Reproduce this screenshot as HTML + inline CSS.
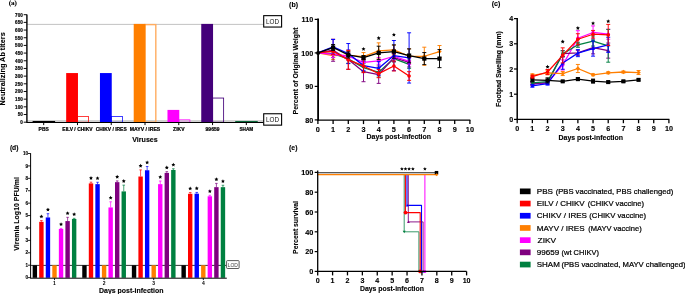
<!DOCTYPE html><html><head><meta charset="utf-8"><style>html,body{margin:0;padding:0;background:#fff}svg{display:block;will-change:transform}</style></head><body><svg width="685" height="294" viewBox="0 0 685 294"><rect width="685" height="294" fill="#fff"/><text x="8.70" y="4.80" font-family="Liberation Serif" font-size="7.1" text-anchor="start" fill="#000" font-weight="bold" stroke="#000" stroke-width="0.12">(a)</text><line x1="26.90" y1="24.40" x2="263.40" y2="24.40" stroke="#b4b4b4" stroke-width="0.8"/><line x1="26.90" y1="120.90" x2="263.40" y2="120.90" stroke="#c4c4c4" stroke-width="1.5"/><rect x="32.60" y="120.97" width="22.50" height="1.23" fill="#000" stroke="none" stroke-width="1"/><rect x="77.59" y="116.43" width="11.00" height="5.77" fill="none" stroke="#ff0000" stroke-width="0.75"/><rect x="66.17" y="73.06" width="11.80" height="49.14" fill="#ff0000" stroke="none" stroke-width="1"/><rect x="111.37" y="116.43" width="11.00" height="5.77" fill="none" stroke="#0000ff" stroke-width="0.75"/><rect x="99.94" y="73.06" width="11.80" height="49.14" fill="#0000ff" stroke="none" stroke-width="1"/><rect x="144.81" y="24.61" width="11.00" height="97.59" fill="none" stroke="#ffac60" stroke-width="1.4"/><rect x="133.71" y="23.91" width="11.80" height="98.29" fill="#ff7f00" stroke="none" stroke-width="1"/><rect x="178.91" y="119.81" width="11.00" height="2.39" fill="none" stroke="#ff00ff" stroke-width="0.75"/><rect x="167.48" y="109.91" width="11.80" height="12.29" fill="#ff00ff" stroke="none" stroke-width="1"/><rect x="212.62" y="98.05" width="11.00" height="24.15" fill="none" stroke="#44007a" stroke-width="0.85"/><rect x="201.25" y="23.91" width="11.80" height="98.29" fill="#44007a" stroke="none" stroke-width="1"/><rect x="235.22" y="120.97" width="22.50" height="1.23" fill="#0a6a3a" stroke="none" stroke-width="1"/><line x1="26.90" y1="14.40" x2="26.90" y2="122.60" stroke="#000" stroke-width="1.4"/><line x1="26.40" y1="122.50" x2="263.40" y2="122.50" stroke="#000" stroke-width="1.15"/><line x1="23.70" y1="122.20" x2="26.90" y2="122.20" stroke="#000" stroke-width="0.95"/><text x="22.70" y="124.00" font-family="Liberation Sans" font-size="5.0" text-anchor="end" fill="#000" font-weight="bold" textLength="2.53" lengthAdjust="spacingAndGlyphs" stroke="#000" stroke-width="0.18">0</text><line x1="23.70" y1="114.52" x2="26.90" y2="114.52" stroke="#000" stroke-width="0.95"/><text x="22.70" y="116.32" font-family="Liberation Sans" font-size="5.0" text-anchor="end" fill="#000" font-weight="bold" textLength="5.06" lengthAdjust="spacingAndGlyphs" stroke="#000" stroke-width="0.18">50</text><line x1="23.70" y1="106.84" x2="26.90" y2="106.84" stroke="#000" stroke-width="0.95"/><text x="22.70" y="108.64" font-family="Liberation Sans" font-size="5.0" text-anchor="end" fill="#000" font-weight="bold" textLength="7.59" lengthAdjust="spacingAndGlyphs" stroke="#000" stroke-width="0.18">100</text><line x1="23.70" y1="99.16" x2="26.90" y2="99.16" stroke="#000" stroke-width="0.95"/><text x="22.70" y="100.96" font-family="Liberation Sans" font-size="5.0" text-anchor="end" fill="#000" font-weight="bold" textLength="7.59" lengthAdjust="spacingAndGlyphs" stroke="#000" stroke-width="0.18">150</text><line x1="23.70" y1="91.49" x2="26.90" y2="91.49" stroke="#000" stroke-width="0.95"/><text x="22.70" y="93.29" font-family="Liberation Sans" font-size="5.0" text-anchor="end" fill="#000" font-weight="bold" textLength="7.59" lengthAdjust="spacingAndGlyphs" stroke="#000" stroke-width="0.18">200</text><line x1="23.70" y1="83.81" x2="26.90" y2="83.81" stroke="#000" stroke-width="0.95"/><text x="22.70" y="85.61" font-family="Liberation Sans" font-size="5.0" text-anchor="end" fill="#000" font-weight="bold" textLength="7.59" lengthAdjust="spacingAndGlyphs" stroke="#000" stroke-width="0.18">250</text><line x1="23.70" y1="76.13" x2="26.90" y2="76.13" stroke="#000" stroke-width="0.95"/><text x="22.70" y="77.93" font-family="Liberation Sans" font-size="5.0" text-anchor="end" fill="#000" font-weight="bold" textLength="7.59" lengthAdjust="spacingAndGlyphs" stroke="#000" stroke-width="0.18">300</text><line x1="23.70" y1="68.45" x2="26.90" y2="68.45" stroke="#000" stroke-width="0.95"/><text x="22.70" y="70.25" font-family="Liberation Sans" font-size="5.0" text-anchor="end" fill="#000" font-weight="bold" textLength="7.59" lengthAdjust="spacingAndGlyphs" stroke="#000" stroke-width="0.18">350</text><line x1="23.70" y1="60.77" x2="26.90" y2="60.77" stroke="#000" stroke-width="0.95"/><text x="22.70" y="62.57" font-family="Liberation Sans" font-size="5.0" text-anchor="end" fill="#000" font-weight="bold" textLength="7.59" lengthAdjust="spacingAndGlyphs" stroke="#000" stroke-width="0.18">400</text><line x1="23.70" y1="53.09" x2="26.90" y2="53.09" stroke="#000" stroke-width="0.95"/><text x="22.70" y="54.89" font-family="Liberation Sans" font-size="5.0" text-anchor="end" fill="#000" font-weight="bold" textLength="7.59" lengthAdjust="spacingAndGlyphs" stroke="#000" stroke-width="0.18">450</text><line x1="23.70" y1="45.41" x2="26.90" y2="45.41" stroke="#000" stroke-width="0.95"/><text x="22.70" y="47.21" font-family="Liberation Sans" font-size="5.0" text-anchor="end" fill="#000" font-weight="bold" textLength="7.59" lengthAdjust="spacingAndGlyphs" stroke="#000" stroke-width="0.18">500</text><line x1="23.70" y1="37.74" x2="26.90" y2="37.74" stroke="#000" stroke-width="0.95"/><text x="22.70" y="39.54" font-family="Liberation Sans" font-size="5.0" text-anchor="end" fill="#000" font-weight="bold" textLength="7.59" lengthAdjust="spacingAndGlyphs" stroke="#000" stroke-width="0.18">550</text><line x1="23.70" y1="30.06" x2="26.90" y2="30.06" stroke="#000" stroke-width="0.95"/><text x="22.70" y="31.86" font-family="Liberation Sans" font-size="5.0" text-anchor="end" fill="#000" font-weight="bold" textLength="7.59" lengthAdjust="spacingAndGlyphs" stroke="#000" stroke-width="0.18">600</text><line x1="23.70" y1="22.38" x2="26.90" y2="22.38" stroke="#000" stroke-width="0.95"/><text x="22.70" y="24.18" font-family="Liberation Sans" font-size="5.0" text-anchor="end" fill="#000" font-weight="bold" textLength="7.59" lengthAdjust="spacingAndGlyphs" stroke="#000" stroke-width="0.18">650</text><line x1="23.70" y1="14.70" x2="26.90" y2="14.70" stroke="#000" stroke-width="0.95"/><text x="22.70" y="16.50" font-family="Liberation Sans" font-size="5.0" text-anchor="end" fill="#000" font-weight="bold" textLength="7.59" lengthAdjust="spacingAndGlyphs" stroke="#000" stroke-width="0.18">700</text><line x1="43.70" y1="122.50" x2="43.70" y2="125.10" stroke="#000" stroke-width="1.0"/><text x="43.70" y="130.50" font-family="Liberation Sans" font-size="4.8" text-anchor="middle" fill="#000" font-weight="bold" textLength="10.2" lengthAdjust="spacingAndGlyphs" stroke="#000" stroke-width="0.2">PBS</text><line x1="77.47" y1="122.50" x2="77.47" y2="125.10" stroke="#000" stroke-width="1.0"/><text x="77.47" y="130.50" font-family="Liberation Sans" font-size="4.8" text-anchor="middle" fill="#000" font-weight="bold" textLength="30.3" lengthAdjust="spacingAndGlyphs" stroke="#000" stroke-width="0.2">EILV / CHIKV</text><line x1="111.24" y1="122.50" x2="111.24" y2="125.10" stroke="#000" stroke-width="1.0"/><text x="111.24" y="130.50" font-family="Liberation Sans" font-size="4.8" text-anchor="middle" fill="#000" font-weight="bold" textLength="30.9" lengthAdjust="spacingAndGlyphs" stroke="#000" stroke-width="0.2">CHIKV / IRES</text><line x1="145.01" y1="122.50" x2="145.01" y2="125.10" stroke="#000" stroke-width="1.0"/><text x="145.01" y="130.50" font-family="Liberation Sans" font-size="4.8" text-anchor="middle" fill="#000" font-weight="bold" textLength="30.5" lengthAdjust="spacingAndGlyphs" stroke="#000" stroke-width="0.2">MAYV / IRES</text><line x1="178.78" y1="122.50" x2="178.78" y2="125.10" stroke="#000" stroke-width="1.0"/><text x="178.78" y="130.50" font-family="Liberation Sans" font-size="4.8" text-anchor="middle" fill="#000" font-weight="bold" textLength="11.4" lengthAdjust="spacingAndGlyphs" stroke="#000" stroke-width="0.2">ZIKV</text><line x1="212.55" y1="122.50" x2="212.55" y2="125.10" stroke="#000" stroke-width="1.0"/><text x="212.55" y="130.50" font-family="Liberation Sans" font-size="4.8" text-anchor="middle" fill="#000" font-weight="bold" textLength="13.9" lengthAdjust="spacingAndGlyphs" stroke="#000" stroke-width="0.2">99659</text><line x1="246.32" y1="122.50" x2="246.32" y2="125.10" stroke="#000" stroke-width="1.0"/><text x="246.32" y="130.50" font-family="Liberation Sans" font-size="4.8" text-anchor="middle" fill="#000" font-weight="bold" textLength="13.8" lengthAdjust="spacingAndGlyphs" stroke="#000" stroke-width="0.2">SHAM</text><text x="145.00" y="142.20" font-family="Liberation Sans" font-size="7.7" text-anchor="middle" fill="#000" font-weight="bold" stroke="#000" stroke-width="0.12" textLength="25.6" lengthAdjust="spacingAndGlyphs">Viruses</text><text x="5.40" y="68.85" font-family="Liberation Sans" font-size="7.3" text-anchor="middle" fill="#000" font-weight="bold" stroke="#000" stroke-width="0.12" transform="rotate(-90 5.40 68.85)">Neutralizing Ab titers</text><rect x="263.70" y="15.65" width="17.90" height="11.40" fill="#fff" stroke="#000" stroke-width="1.1"/><text x="272.60" y="24.25" font-family="Liberation Sans" font-size="7.4" text-anchor="middle" fill="#111" textLength="13.0" lengthAdjust="spacingAndGlyphs">LOD</text><rect x="263.70" y="113.75" width="17.90" height="11.40" fill="#fff" stroke="#000" stroke-width="1.1"/><text x="272.60" y="122.35" font-family="Liberation Sans" font-size="7.4" text-anchor="middle" fill="#111" textLength="13.0" lengthAdjust="spacingAndGlyphs">LOD</text><text x="289.10" y="7.30" font-family="Liberation Sans" font-size="7" text-anchor="start" fill="#000" font-weight="bold" stroke="#000" stroke-width="0.12">(b)</text><text x="297.60" y="70.90" font-family="Liberation Sans" font-size="6.95" text-anchor="middle" fill="#000" font-weight="bold" stroke="#000" stroke-width="0.12" transform="rotate(-90 297.60 70.90)">Percent of Original Weight</text><line x1="333.10" y1="59.60" x2="333.10" y2="51.56" stroke="#ff7f00" stroke-width="0.95"/><line x1="331.10" y1="59.60" x2="335.10" y2="59.60" stroke="#ff7f00" stroke-width="0.95"/><line x1="331.10" y1="51.56" x2="335.10" y2="51.56" stroke="#ff7f00" stroke-width="0.95"/><line x1="348.30" y1="59.27" x2="348.30" y2="51.23" stroke="#ff7f00" stroke-width="0.95"/><line x1="346.30" y1="59.27" x2="350.30" y2="59.27" stroke="#ff7f00" stroke-width="0.95"/><line x1="346.30" y1="51.23" x2="350.30" y2="51.23" stroke="#ff7f00" stroke-width="0.95"/><line x1="363.50" y1="60.60" x2="363.50" y2="52.56" stroke="#ff7f00" stroke-width="0.95"/><line x1="361.50" y1="60.60" x2="365.50" y2="60.60" stroke="#ff7f00" stroke-width="0.95"/><line x1="361.50" y1="52.56" x2="365.50" y2="52.56" stroke="#ff7f00" stroke-width="0.95"/><line x1="378.70" y1="58.93" x2="378.70" y2="42.85" stroke="#ff7f00" stroke-width="0.95"/><line x1="376.70" y1="58.93" x2="380.70" y2="58.93" stroke="#ff7f00" stroke-width="0.95"/><line x1="376.70" y1="42.85" x2="380.70" y2="42.85" stroke="#ff7f00" stroke-width="0.95"/><line x1="393.90" y1="54.57" x2="393.90" y2="45.19" stroke="#ff7f00" stroke-width="0.95"/><line x1="391.90" y1="54.57" x2="395.90" y2="54.57" stroke="#ff7f00" stroke-width="0.95"/><line x1="391.90" y1="45.19" x2="395.90" y2="45.19" stroke="#ff7f00" stroke-width="0.95"/><line x1="409.10" y1="63.62" x2="409.10" y2="48.88" stroke="#ff7f00" stroke-width="0.95"/><line x1="407.10" y1="63.62" x2="411.10" y2="63.62" stroke="#ff7f00" stroke-width="0.95"/><line x1="407.10" y1="48.88" x2="411.10" y2="48.88" stroke="#ff7f00" stroke-width="0.95"/><line x1="424.30" y1="65.30" x2="424.30" y2="47.20" stroke="#ff7f00" stroke-width="0.95"/><line x1="422.30" y1="65.30" x2="426.30" y2="65.30" stroke="#ff7f00" stroke-width="0.95"/><line x1="422.30" y1="47.20" x2="426.30" y2="47.20" stroke="#ff7f00" stroke-width="0.95"/><line x1="439.50" y1="57.59" x2="439.50" y2="45.53" stroke="#ff7f00" stroke-width="0.95"/><line x1="437.50" y1="57.59" x2="441.50" y2="57.59" stroke="#ff7f00" stroke-width="0.95"/><line x1="437.50" y1="45.53" x2="441.50" y2="45.53" stroke="#ff7f00" stroke-width="0.95"/><polyline points="317.90,52.90 333.10,55.58 348.30,55.25 363.50,56.58 378.70,50.89 393.90,49.88 409.10,56.25 424.30,56.25 439.50,51.56" fill="none" stroke="#ff7f00" stroke-width="1.25" stroke-linejoin="round"/><polygon points="333.10,53.42 335.26,55.58 333.10,57.74 330.94,55.58" fill="#ff7f00"/><polygon points="348.30,53.09 350.46,55.25 348.30,57.41 346.14,55.25" fill="#ff7f00"/><polygon points="363.50,54.42 365.66,56.58 363.50,58.74 361.34,56.58" fill="#ff7f00"/><polygon points="378.70,48.73 380.86,50.89 378.70,53.05 376.54,50.89" fill="#ff7f00"/><polygon points="393.90,47.72 396.06,49.88 393.90,52.04 391.74,49.88" fill="#ff7f00"/><polygon points="409.10,54.09 411.26,56.25 409.10,58.41 406.94,56.25" fill="#ff7f00"/><polygon points="424.30,54.09 426.46,56.25 424.30,58.41 422.14,56.25" fill="#ff7f00"/><polygon points="439.50,49.40 441.66,51.56 439.50,53.72 437.34,51.56" fill="#ff7f00"/><line x1="333.10" y1="57.59" x2="333.10" y2="49.55" stroke="#008040" stroke-width="0.95"/><line x1="331.10" y1="57.59" x2="335.10" y2="57.59" stroke="#008040" stroke-width="0.95"/><line x1="331.10" y1="49.55" x2="335.10" y2="49.55" stroke="#008040" stroke-width="0.95"/><line x1="348.30" y1="63.28" x2="348.30" y2="54.57" stroke="#008040" stroke-width="0.95"/><line x1="346.30" y1="63.28" x2="350.30" y2="63.28" stroke="#008040" stroke-width="0.95"/><line x1="346.30" y1="54.57" x2="350.30" y2="54.57" stroke="#008040" stroke-width="0.95"/><line x1="363.50" y1="71.66" x2="363.50" y2="63.62" stroke="#008040" stroke-width="0.95"/><line x1="361.50" y1="71.66" x2="365.50" y2="71.66" stroke="#008040" stroke-width="0.95"/><line x1="361.50" y1="63.62" x2="365.50" y2="63.62" stroke="#008040" stroke-width="0.95"/><line x1="378.70" y1="77.02" x2="378.70" y2="67.64" stroke="#008040" stroke-width="0.95"/><line x1="376.70" y1="77.02" x2="380.70" y2="77.02" stroke="#008040" stroke-width="0.95"/><line x1="376.70" y1="67.64" x2="380.70" y2="67.64" stroke="#008040" stroke-width="0.95"/><line x1="393.90" y1="61.95" x2="393.90" y2="55.25" stroke="#008040" stroke-width="0.95"/><line x1="391.90" y1="61.95" x2="395.90" y2="61.95" stroke="#008040" stroke-width="0.95"/><line x1="391.90" y1="55.25" x2="395.90" y2="55.25" stroke="#008040" stroke-width="0.95"/><line x1="409.10" y1="68.31" x2="409.10" y2="60.27" stroke="#008040" stroke-width="0.95"/><line x1="407.10" y1="68.31" x2="411.10" y2="68.31" stroke="#008040" stroke-width="0.95"/><line x1="407.10" y1="60.27" x2="411.10" y2="60.27" stroke="#008040" stroke-width="0.95"/><polyline points="317.90,52.90 333.10,53.57 348.30,58.93 363.50,67.64 378.70,72.33 393.90,58.60 409.10,64.29" fill="none" stroke="#008040" stroke-width="1.3" stroke-linejoin="round"/><polygon points="333.10,55.55 335.08,52.13 331.12,52.13" fill="#008040"/><polygon points="348.30,60.91 350.28,57.49 346.32,57.49" fill="#008040"/><polygon points="363.50,69.62 365.48,66.20 361.52,66.20" fill="#008040"/><polygon points="378.70,74.31 380.68,70.89 376.72,70.89" fill="#008040"/><polygon points="393.90,60.58 395.88,57.16 391.92,57.16" fill="#008040"/><polygon points="409.10,66.27 411.08,62.85 407.12,62.85" fill="#008040"/><line x1="333.10" y1="61.27" x2="333.10" y2="39.17" stroke="#7f007f" stroke-width="0.95"/><line x1="331.10" y1="61.27" x2="335.10" y2="61.27" stroke="#7f007f" stroke-width="0.95"/><line x1="331.10" y1="39.17" x2="335.10" y2="39.17" stroke="#7f007f" stroke-width="0.95"/><line x1="348.30" y1="69.32" x2="348.30" y2="49.88" stroke="#7f007f" stroke-width="0.95"/><line x1="346.30" y1="69.32" x2="350.30" y2="69.32" stroke="#7f007f" stroke-width="0.95"/><line x1="346.30" y1="49.88" x2="350.30" y2="49.88" stroke="#7f007f" stroke-width="0.95"/><line x1="363.50" y1="81.71" x2="363.50" y2="61.61" stroke="#7f007f" stroke-width="0.95"/><line x1="361.50" y1="81.71" x2="365.50" y2="81.71" stroke="#7f007f" stroke-width="0.95"/><line x1="361.50" y1="61.61" x2="365.50" y2="61.61" stroke="#7f007f" stroke-width="0.95"/><line x1="378.70" y1="83.38" x2="378.70" y2="65.97" stroke="#7f007f" stroke-width="0.95"/><line x1="376.70" y1="83.38" x2="380.70" y2="83.38" stroke="#7f007f" stroke-width="0.95"/><line x1="376.70" y1="65.97" x2="380.70" y2="65.97" stroke="#7f007f" stroke-width="0.95"/><line x1="393.90" y1="61.61" x2="393.90" y2="53.57" stroke="#7f007f" stroke-width="0.95"/><line x1="391.90" y1="61.61" x2="395.90" y2="61.61" stroke="#7f007f" stroke-width="0.95"/><line x1="391.90" y1="53.57" x2="395.90" y2="53.57" stroke="#7f007f" stroke-width="0.95"/><line x1="409.10" y1="66.97" x2="409.10" y2="57.59" stroke="#7f007f" stroke-width="0.95"/><line x1="407.10" y1="66.97" x2="411.10" y2="66.97" stroke="#7f007f" stroke-width="0.95"/><line x1="407.10" y1="57.59" x2="411.10" y2="57.59" stroke="#7f007f" stroke-width="0.95"/><polyline points="317.90,52.90 333.10,50.22 348.30,59.60 363.50,71.66 378.70,74.67 393.90,57.59 409.10,62.28" fill="none" stroke="#7f007f" stroke-width="1.3" stroke-linejoin="round"/><polygon points="333.10,48.24 335.08,51.66 331.12,51.66" fill="#7f007f"/><polygon points="348.30,57.62 350.28,61.04 346.32,61.04" fill="#7f007f"/><polygon points="363.50,69.68 365.48,73.10 361.52,73.10" fill="#7f007f"/><polygon points="378.70,72.69 380.68,76.11 376.72,76.11" fill="#7f007f"/><polygon points="393.90,55.61 395.88,59.03 391.92,59.03" fill="#7f007f"/><polygon points="409.10,60.30 411.08,63.72 407.12,63.72" fill="#7f007f"/><line x1="333.10" y1="57.59" x2="333.10" y2="50.89" stroke="#ff00ff" stroke-width="0.95"/><line x1="331.10" y1="57.59" x2="335.10" y2="57.59" stroke="#ff00ff" stroke-width="0.95"/><line x1="331.10" y1="50.89" x2="335.10" y2="50.89" stroke="#ff00ff" stroke-width="0.95"/><line x1="348.30" y1="59.60" x2="348.30" y2="52.90" stroke="#ff00ff" stroke-width="0.95"/><line x1="346.30" y1="59.60" x2="350.30" y2="59.60" stroke="#ff00ff" stroke-width="0.95"/><line x1="346.30" y1="52.90" x2="350.30" y2="52.90" stroke="#ff00ff" stroke-width="0.95"/><line x1="363.50" y1="65.63" x2="363.50" y2="58.93" stroke="#ff00ff" stroke-width="0.95"/><line x1="361.50" y1="65.63" x2="365.50" y2="65.63" stroke="#ff00ff" stroke-width="0.95"/><line x1="361.50" y1="58.93" x2="365.50" y2="58.93" stroke="#ff00ff" stroke-width="0.95"/><line x1="378.70" y1="64.29" x2="378.70" y2="57.59" stroke="#ff00ff" stroke-width="0.95"/><line x1="376.70" y1="64.29" x2="380.70" y2="64.29" stroke="#ff00ff" stroke-width="0.95"/><line x1="376.70" y1="57.59" x2="380.70" y2="57.59" stroke="#ff00ff" stroke-width="0.95"/><line x1="393.90" y1="59.27" x2="393.90" y2="53.23" stroke="#ff00ff" stroke-width="0.95"/><line x1="391.90" y1="59.27" x2="395.90" y2="59.27" stroke="#ff00ff" stroke-width="0.95"/><line x1="391.90" y1="53.23" x2="395.90" y2="53.23" stroke="#ff00ff" stroke-width="0.95"/><line x1="409.10" y1="64.62" x2="409.10" y2="57.92" stroke="#ff00ff" stroke-width="0.95"/><line x1="407.10" y1="64.62" x2="411.10" y2="64.62" stroke="#ff00ff" stroke-width="0.95"/><line x1="407.10" y1="57.92" x2="411.10" y2="57.92" stroke="#ff00ff" stroke-width="0.95"/><polyline points="317.90,52.90 333.10,54.24 348.30,56.25 363.50,62.28 378.70,60.94 393.90,56.25 409.10,61.27" fill="none" stroke="#ff00ff" stroke-width="1.3" stroke-linejoin="round"/><circle cx="333.10" cy="54.24" r="1.80" fill="#ff00ff"/><circle cx="348.30" cy="56.25" r="1.80" fill="#ff00ff"/><circle cx="363.50" cy="62.28" r="1.80" fill="#ff00ff"/><circle cx="378.70" cy="60.94" r="1.80" fill="#ff00ff"/><circle cx="393.90" cy="56.25" r="1.80" fill="#ff00ff"/><circle cx="409.10" cy="61.27" r="1.80" fill="#ff00ff"/><line x1="333.10" y1="54.24" x2="333.10" y2="39.50" stroke="#0000ff" stroke-width="0.95"/><line x1="331.10" y1="54.24" x2="335.10" y2="54.24" stroke="#0000ff" stroke-width="0.95"/><line x1="331.10" y1="39.50" x2="335.10" y2="39.50" stroke="#0000ff" stroke-width="0.95"/><line x1="348.30" y1="63.62" x2="348.30" y2="43.52" stroke="#0000ff" stroke-width="0.95"/><line x1="346.30" y1="63.62" x2="350.30" y2="63.62" stroke="#0000ff" stroke-width="0.95"/><line x1="346.30" y1="43.52" x2="350.30" y2="43.52" stroke="#0000ff" stroke-width="0.95"/><line x1="363.50" y1="70.32" x2="363.50" y2="60.94" stroke="#0000ff" stroke-width="0.95"/><line x1="361.50" y1="70.32" x2="365.50" y2="70.32" stroke="#0000ff" stroke-width="0.95"/><line x1="361.50" y1="60.94" x2="365.50" y2="60.94" stroke="#0000ff" stroke-width="0.95"/><line x1="378.70" y1="75.01" x2="378.70" y2="61.61" stroke="#0000ff" stroke-width="0.95"/><line x1="376.70" y1="75.01" x2="380.70" y2="75.01" stroke="#0000ff" stroke-width="0.95"/><line x1="376.70" y1="61.61" x2="380.70" y2="61.61" stroke="#0000ff" stroke-width="0.95"/><line x1="393.90" y1="70.65" x2="393.90" y2="40.50" stroke="#0000ff" stroke-width="0.95"/><line x1="391.90" y1="70.65" x2="395.90" y2="70.65" stroke="#0000ff" stroke-width="0.95"/><line x1="391.90" y1="40.50" x2="395.90" y2="40.50" stroke="#0000ff" stroke-width="0.95"/><line x1="409.10" y1="83.05" x2="409.10" y2="32.80" stroke="#0000ff" stroke-width="0.95"/><line x1="407.10" y1="83.05" x2="411.10" y2="83.05" stroke="#0000ff" stroke-width="0.95"/><line x1="407.10" y1="32.80" x2="411.10" y2="32.80" stroke="#0000ff" stroke-width="0.95"/><polyline points="317.90,52.90 333.10,46.87 348.30,53.57 363.50,65.63 378.70,68.31 393.90,55.58 409.10,57.92" fill="none" stroke="#0000ff" stroke-width="1.3" stroke-linejoin="round"/><polygon points="333.10,44.89 335.08,48.31 331.12,48.31" fill="#0000ff"/><polygon points="348.30,51.59 350.28,55.01 346.32,55.01" fill="#0000ff"/><polygon points="363.50,63.65 365.48,67.07 361.52,67.07" fill="#0000ff"/><polygon points="378.70,66.33 380.68,69.75 376.72,69.75" fill="#0000ff"/><polygon points="393.90,53.60 395.88,57.02 391.92,57.02" fill="#0000ff"/><polygon points="409.10,55.95 411.08,59.36 407.12,59.36" fill="#0000ff"/><line x1="333.10" y1="54.57" x2="333.10" y2="47.88" stroke="#ff0000" stroke-width="0.95"/><line x1="331.10" y1="54.57" x2="335.10" y2="54.57" stroke="#ff0000" stroke-width="0.95"/><line x1="331.10" y1="47.88" x2="335.10" y2="47.88" stroke="#ff0000" stroke-width="0.95"/><line x1="348.30" y1="69.31" x2="348.30" y2="50.55" stroke="#ff0000" stroke-width="0.95"/><line x1="346.30" y1="69.31" x2="350.30" y2="69.31" stroke="#ff0000" stroke-width="0.95"/><line x1="346.30" y1="50.55" x2="350.30" y2="50.55" stroke="#ff0000" stroke-width="0.95"/><line x1="363.50" y1="72.67" x2="363.50" y2="59.27" stroke="#ff0000" stroke-width="0.95"/><line x1="361.50" y1="72.67" x2="365.50" y2="72.67" stroke="#ff0000" stroke-width="0.95"/><line x1="361.50" y1="59.27" x2="365.50" y2="59.27" stroke="#ff0000" stroke-width="0.95"/><line x1="378.70" y1="77.69" x2="378.70" y2="69.65" stroke="#ff0000" stroke-width="0.95"/><line x1="376.70" y1="77.69" x2="380.70" y2="77.69" stroke="#ff0000" stroke-width="0.95"/><line x1="376.70" y1="69.65" x2="380.70" y2="69.65" stroke="#ff0000" stroke-width="0.95"/><line x1="393.90" y1="70.99" x2="393.90" y2="60.94" stroke="#ff0000" stroke-width="0.95"/><line x1="391.90" y1="70.99" x2="395.90" y2="70.99" stroke="#ff0000" stroke-width="0.95"/><line x1="391.90" y1="60.94" x2="395.90" y2="60.94" stroke="#ff0000" stroke-width="0.95"/><line x1="409.10" y1="80.37" x2="409.10" y2="71.66" stroke="#ff0000" stroke-width="0.95"/><line x1="407.10" y1="80.37" x2="411.10" y2="80.37" stroke="#ff0000" stroke-width="0.95"/><line x1="407.10" y1="71.66" x2="411.10" y2="71.66" stroke="#ff0000" stroke-width="0.95"/><polyline points="317.90,52.90 333.10,51.23 348.30,59.93 363.50,65.97 378.70,73.67 393.90,65.97 409.10,76.02" fill="none" stroke="#ff0000" stroke-width="1.3" stroke-linejoin="round"/><circle cx="333.10" cy="51.23" r="1.80" fill="#ff0000"/><circle cx="348.30" cy="59.93" r="1.80" fill="#ff0000"/><circle cx="363.50" cy="65.97" r="1.80" fill="#ff0000"/><circle cx="378.70" cy="73.67" r="1.80" fill="#ff0000"/><circle cx="393.90" cy="65.97" r="1.80" fill="#ff0000"/><circle cx="409.10" cy="76.02" r="1.80" fill="#ff0000"/><line x1="333.10" y1="50.56" x2="333.10" y2="44.52" stroke="#000" stroke-width="0.95"/><line x1="331.10" y1="50.56" x2="335.10" y2="50.56" stroke="#000" stroke-width="0.95"/><line x1="331.10" y1="44.52" x2="335.10" y2="44.52" stroke="#000" stroke-width="0.95"/><line x1="348.30" y1="57.92" x2="348.30" y2="51.89" stroke="#000" stroke-width="0.95"/><line x1="346.30" y1="57.92" x2="350.30" y2="57.92" stroke="#000" stroke-width="0.95"/><line x1="346.30" y1="51.89" x2="350.30" y2="51.89" stroke="#000" stroke-width="0.95"/><line x1="363.50" y1="59.60" x2="363.50" y2="55.58" stroke="#000" stroke-width="0.95"/><line x1="361.50" y1="59.60" x2="365.50" y2="59.60" stroke="#000" stroke-width="0.95"/><line x1="361.50" y1="55.58" x2="365.50" y2="55.58" stroke="#000" stroke-width="0.95"/><line x1="378.70" y1="59.60" x2="378.70" y2="46.20" stroke="#000" stroke-width="0.95"/><line x1="376.70" y1="59.60" x2="380.70" y2="59.60" stroke="#000" stroke-width="0.95"/><line x1="376.70" y1="46.20" x2="380.70" y2="46.20" stroke="#000" stroke-width="0.95"/><line x1="393.90" y1="58.26" x2="393.90" y2="44.86" stroke="#000" stroke-width="0.95"/><line x1="391.90" y1="58.26" x2="395.90" y2="58.26" stroke="#000" stroke-width="0.95"/><line x1="391.90" y1="44.86" x2="395.90" y2="44.86" stroke="#000" stroke-width="0.95"/><line x1="409.10" y1="62.28" x2="409.10" y2="48.88" stroke="#000" stroke-width="0.95"/><line x1="407.10" y1="62.28" x2="411.10" y2="62.28" stroke="#000" stroke-width="0.95"/><line x1="407.10" y1="48.88" x2="411.10" y2="48.88" stroke="#000" stroke-width="0.95"/><line x1="424.30" y1="64.62" x2="424.30" y2="52.57" stroke="#000" stroke-width="0.95"/><line x1="422.30" y1="64.62" x2="426.30" y2="64.62" stroke="#000" stroke-width="0.95"/><line x1="422.30" y1="52.57" x2="426.30" y2="52.57" stroke="#000" stroke-width="0.95"/><line x1="439.50" y1="67.64" x2="439.50" y2="49.55" stroke="#000" stroke-width="0.95"/><line x1="437.50" y1="67.64" x2="441.50" y2="67.64" stroke="#000" stroke-width="0.95"/><line x1="437.50" y1="49.55" x2="441.50" y2="49.55" stroke="#000" stroke-width="0.95"/><polyline points="317.90,52.90 333.10,47.54 348.30,54.91 363.50,57.59 378.70,52.90 393.90,51.56 409.10,55.58 424.30,58.60 439.50,58.60" fill="none" stroke="#000" stroke-width="1.3" stroke-linejoin="round"/><rect x="331.00" y="45.44" width="4.20" height="4.20" fill="#000" stroke="none" stroke-width="1"/><rect x="346.20" y="52.81" width="4.20" height="4.20" fill="#000" stroke="none" stroke-width="1"/><rect x="361.40" y="55.49" width="4.20" height="4.20" fill="#000" stroke="none" stroke-width="1"/><rect x="376.60" y="50.80" width="4.20" height="4.20" fill="#000" stroke="none" stroke-width="1"/><rect x="391.80" y="49.46" width="4.20" height="4.20" fill="#000" stroke="none" stroke-width="1"/><rect x="407.00" y="53.48" width="4.20" height="4.20" fill="#000" stroke="none" stroke-width="1"/><rect x="422.20" y="56.50" width="4.20" height="4.20" fill="#000" stroke="none" stroke-width="1"/><rect x="437.40" y="56.50" width="4.20" height="4.20" fill="#000" stroke="none" stroke-width="1"/><polygon points="363.50,46.90 364.12,48.15 365.50,48.35 364.50,49.32 364.73,50.70 363.50,50.05 362.27,50.70 362.50,49.32 361.50,48.35 362.88,48.15" fill="#000"/><polygon points="378.70,36.10 379.32,37.35 380.70,37.55 379.70,38.52 379.93,39.90 378.70,39.25 377.47,39.90 377.70,38.52 376.70,37.55 378.08,37.35" fill="#000"/><polygon points="393.90,32.70 394.52,33.95 395.90,34.15 394.90,35.12 395.13,36.50 393.90,35.85 392.67,36.50 392.90,35.12 391.90,34.15 393.28,33.95" fill="#000"/><line x1="318.10" y1="18.60" x2="318.10" y2="120.60" stroke="#000" stroke-width="1.8"/><line x1="317.30" y1="120.10" x2="470.30" y2="120.10" stroke="#000" stroke-width="1.3"/><line x1="314.70" y1="119.90" x2="317.90" y2="119.90" stroke="#000" stroke-width="1.2"/><text x="313.20" y="122.50" font-family="Liberation Sans" font-size="7.2" text-anchor="end" fill="#000" font-weight="bold" stroke="#000" stroke-width="0.12">80</text><line x1="314.70" y1="86.40" x2="317.90" y2="86.40" stroke="#000" stroke-width="1.2"/><text x="313.20" y="89.00" font-family="Liberation Sans" font-size="7.2" text-anchor="end" fill="#000" font-weight="bold" stroke="#000" stroke-width="0.12">90</text><line x1="314.70" y1="52.90" x2="317.90" y2="52.90" stroke="#000" stroke-width="1.2"/><text x="313.20" y="55.50" font-family="Liberation Sans" font-size="7.2" text-anchor="end" fill="#000" font-weight="bold" stroke="#000" stroke-width="0.12">100</text><line x1="314.70" y1="19.40" x2="317.90" y2="19.40" stroke="#000" stroke-width="1.2"/><text x="313.20" y="22.00" font-family="Liberation Sans" font-size="7.2" text-anchor="end" fill="#000" font-weight="bold" stroke="#000" stroke-width="0.12">110</text><line x1="317.90" y1="120.10" x2="317.90" y2="124.10" stroke="#000" stroke-width="1.3"/><text x="317.90" y="131.50" font-family="Liberation Sans" font-size="7.3" text-anchor="middle" fill="#000" font-weight="bold" stroke="#000" stroke-width="0.12">0</text><line x1="333.10" y1="120.10" x2="333.10" y2="124.10" stroke="#000" stroke-width="1.3"/><text x="333.10" y="131.50" font-family="Liberation Sans" font-size="7.3" text-anchor="middle" fill="#000" font-weight="bold" stroke="#000" stroke-width="0.12">1</text><line x1="348.30" y1="120.10" x2="348.30" y2="124.10" stroke="#000" stroke-width="1.3"/><text x="348.30" y="131.50" font-family="Liberation Sans" font-size="7.3" text-anchor="middle" fill="#000" font-weight="bold" stroke="#000" stroke-width="0.12">2</text><line x1="363.50" y1="120.10" x2="363.50" y2="124.10" stroke="#000" stroke-width="1.3"/><text x="363.50" y="131.50" font-family="Liberation Sans" font-size="7.3" text-anchor="middle" fill="#000" font-weight="bold" stroke="#000" stroke-width="0.12">3</text><line x1="378.70" y1="120.10" x2="378.70" y2="124.10" stroke="#000" stroke-width="1.3"/><text x="378.70" y="131.50" font-family="Liberation Sans" font-size="7.3" text-anchor="middle" fill="#000" font-weight="bold" stroke="#000" stroke-width="0.12">4</text><line x1="393.90" y1="120.10" x2="393.90" y2="124.10" stroke="#000" stroke-width="1.3"/><text x="393.90" y="131.50" font-family="Liberation Sans" font-size="7.3" text-anchor="middle" fill="#000" font-weight="bold" stroke="#000" stroke-width="0.12">5</text><line x1="409.10" y1="120.10" x2="409.10" y2="124.10" stroke="#000" stroke-width="1.3"/><text x="409.10" y="131.50" font-family="Liberation Sans" font-size="7.3" text-anchor="middle" fill="#000" font-weight="bold" stroke="#000" stroke-width="0.12">6</text><line x1="424.30" y1="120.10" x2="424.30" y2="124.10" stroke="#000" stroke-width="1.3"/><text x="424.30" y="131.50" font-family="Liberation Sans" font-size="7.3" text-anchor="middle" fill="#000" font-weight="bold" stroke="#000" stroke-width="0.12">7</text><line x1="439.50" y1="120.10" x2="439.50" y2="124.10" stroke="#000" stroke-width="1.3"/><text x="439.50" y="131.50" font-family="Liberation Sans" font-size="7.3" text-anchor="middle" fill="#000" font-weight="bold" stroke="#000" stroke-width="0.12">8</text><line x1="454.70" y1="120.10" x2="454.70" y2="124.10" stroke="#000" stroke-width="1.3"/><text x="454.70" y="131.50" font-family="Liberation Sans" font-size="7.3" text-anchor="middle" fill="#000" font-weight="bold" stroke="#000" stroke-width="0.12">9</text><line x1="469.90" y1="120.10" x2="469.90" y2="124.10" stroke="#000" stroke-width="1.3"/><text x="469.90" y="131.50" font-family="Liberation Sans" font-size="7.3" text-anchor="middle" fill="#000" font-weight="bold" stroke="#000" stroke-width="0.12">10</text><text x="398.80" y="139.20" font-family="Liberation Sans" font-size="6.95" text-anchor="middle" fill="#000" font-weight="bold" stroke="#000" stroke-width="0.12">Days post-infection</text><circle cx="318.10" cy="52.90" r="2.00" fill="#000"/><text x="491.70" y="6.25" font-family="Liberation Sans" font-size="7" text-anchor="start" fill="#000" font-weight="bold" stroke="#000" stroke-width="0.12">(c)</text><text x="501.50" y="69.05" font-family="Liberation Sans" font-size="6.9" text-anchor="middle" fill="#000" font-weight="bold" stroke="#000" stroke-width="0.12" transform="rotate(-90 501.50 69.05)">Footpad Swelling (mm)</text><line x1="532.37" y1="85.38" x2="532.37" y2="82.86" stroke="#ff00ff" stroke-width="0.95"/><line x1="530.37" y1="85.38" x2="534.37" y2="85.38" stroke="#ff00ff" stroke-width="0.95"/><line x1="530.37" y1="82.86" x2="534.37" y2="82.86" stroke="#ff00ff" stroke-width="0.95"/><line x1="547.54" y1="84.37" x2="547.54" y2="81.35" stroke="#ff00ff" stroke-width="0.95"/><line x1="545.54" y1="84.37" x2="549.54" y2="84.37" stroke="#ff00ff" stroke-width="0.95"/><line x1="545.54" y1="81.35" x2="549.54" y2="81.35" stroke="#ff00ff" stroke-width="0.95"/><line x1="562.71" y1="70.01" x2="562.71" y2="59.93" stroke="#ff00ff" stroke-width="0.95"/><line x1="560.71" y1="70.01" x2="564.71" y2="70.01" stroke="#ff00ff" stroke-width="0.95"/><line x1="560.71" y1="59.93" x2="564.71" y2="59.93" stroke="#ff00ff" stroke-width="0.95"/><line x1="577.88" y1="45.82" x2="577.88" y2="30.70" stroke="#ff00ff" stroke-width="0.95"/><line x1="575.88" y1="45.82" x2="579.88" y2="45.82" stroke="#ff00ff" stroke-width="0.95"/><line x1="575.88" y1="30.70" x2="579.88" y2="30.70" stroke="#ff00ff" stroke-width="0.95"/><line x1="593.05" y1="39.01" x2="593.05" y2="25.91" stroke="#ff00ff" stroke-width="0.95"/><line x1="591.05" y1="39.01" x2="595.05" y2="39.01" stroke="#ff00ff" stroke-width="0.95"/><line x1="591.05" y1="25.91" x2="595.05" y2="25.91" stroke="#ff00ff" stroke-width="0.95"/><line x1="608.22" y1="39.26" x2="608.22" y2="29.18" stroke="#ff00ff" stroke-width="0.95"/><line x1="606.22" y1="39.26" x2="610.22" y2="39.26" stroke="#ff00ff" stroke-width="0.95"/><line x1="606.22" y1="29.18" x2="610.22" y2="29.18" stroke="#ff00ff" stroke-width="0.95"/><polyline points="532.37,84.12 547.54,82.86 562.71,64.97 577.88,38.26 593.05,32.46 608.22,34.22" fill="none" stroke="#ff00ff" stroke-width="1.25" stroke-linejoin="round"/><circle cx="532.37" cy="84.12" r="1.80" fill="#ff00ff"/><circle cx="547.54" cy="82.86" r="1.80" fill="#ff00ff"/><circle cx="562.71" cy="64.97" r="1.80" fill="#ff00ff"/><circle cx="577.88" cy="38.26" r="1.80" fill="#ff00ff"/><circle cx="593.05" cy="32.46" r="1.80" fill="#ff00ff"/><circle cx="608.22" cy="34.22" r="1.80" fill="#ff00ff"/><line x1="532.37" y1="85.13" x2="532.37" y2="82.61" stroke="#7f007f" stroke-width="0.95"/><line x1="530.37" y1="85.13" x2="534.37" y2="85.13" stroke="#7f007f" stroke-width="0.95"/><line x1="530.37" y1="82.61" x2="534.37" y2="82.61" stroke="#7f007f" stroke-width="0.95"/><line x1="547.54" y1="84.12" x2="547.54" y2="81.10" stroke="#7f007f" stroke-width="0.95"/><line x1="545.54" y1="84.12" x2="549.54" y2="84.12" stroke="#7f007f" stroke-width="0.95"/><line x1="545.54" y1="81.10" x2="549.54" y2="81.10" stroke="#7f007f" stroke-width="0.95"/><line x1="562.71" y1="56.65" x2="562.71" y2="50.60" stroke="#7f007f" stroke-width="0.95"/><line x1="560.71" y1="56.65" x2="564.71" y2="56.65" stroke="#7f007f" stroke-width="0.95"/><line x1="560.71" y1="50.60" x2="564.71" y2="50.60" stroke="#7f007f" stroke-width="0.95"/><line x1="577.88" y1="55.39" x2="577.88" y2="50.35" stroke="#7f007f" stroke-width="0.95"/><line x1="575.88" y1="55.39" x2="579.88" y2="55.39" stroke="#7f007f" stroke-width="0.95"/><line x1="575.88" y1="50.35" x2="579.88" y2="50.35" stroke="#7f007f" stroke-width="0.95"/><line x1="593.05" y1="53.88" x2="593.05" y2="41.28" stroke="#7f007f" stroke-width="0.95"/><line x1="591.05" y1="53.88" x2="595.05" y2="53.88" stroke="#7f007f" stroke-width="0.95"/><line x1="591.05" y1="41.28" x2="595.05" y2="41.28" stroke="#7f007f" stroke-width="0.95"/><line x1="608.22" y1="58.16" x2="608.22" y2="43.04" stroke="#7f007f" stroke-width="0.95"/><line x1="606.22" y1="58.16" x2="610.22" y2="58.16" stroke="#7f007f" stroke-width="0.95"/><line x1="606.22" y1="43.04" x2="610.22" y2="43.04" stroke="#7f007f" stroke-width="0.95"/><polyline points="532.37,83.87 547.54,82.61 562.71,53.63 577.88,52.87 593.05,47.58 608.22,50.60" fill="none" stroke="#7f007f" stroke-width="1.25" stroke-linejoin="round"/><polygon points="532.37,81.89 534.35,85.31 530.39,85.31" fill="#7f007f"/><polygon points="547.54,80.63 549.52,84.05 545.56,84.05" fill="#7f007f"/><polygon points="562.71,51.65 564.69,55.07 560.73,55.07" fill="#7f007f"/><polygon points="577.88,50.89 579.86,54.31 575.90,54.31" fill="#7f007f"/><polygon points="593.05,45.60 595.03,49.02 591.07,49.02" fill="#7f007f"/><polygon points="608.22,48.62 610.20,52.04 606.24,52.04" fill="#7f007f"/><line x1="532.37" y1="84.12" x2="532.37" y2="81.60" stroke="#008040" stroke-width="0.95"/><line x1="530.37" y1="84.12" x2="534.37" y2="84.12" stroke="#008040" stroke-width="0.95"/><line x1="530.37" y1="81.60" x2="534.37" y2="81.60" stroke="#008040" stroke-width="0.95"/><line x1="547.54" y1="83.11" x2="547.54" y2="80.09" stroke="#008040" stroke-width="0.95"/><line x1="545.54" y1="83.11" x2="549.54" y2="83.11" stroke="#008040" stroke-width="0.95"/><line x1="545.54" y1="80.09" x2="549.54" y2="80.09" stroke="#008040" stroke-width="0.95"/><line x1="562.71" y1="56.90" x2="562.71" y2="50.86" stroke="#008040" stroke-width="0.95"/><line x1="560.71" y1="56.90" x2="564.71" y2="56.90" stroke="#008040" stroke-width="0.95"/><line x1="560.71" y1="50.86" x2="564.71" y2="50.86" stroke="#008040" stroke-width="0.95"/><line x1="577.88" y1="47.33" x2="577.88" y2="42.29" stroke="#008040" stroke-width="0.95"/><line x1="575.88" y1="47.33" x2="579.88" y2="47.33" stroke="#008040" stroke-width="0.95"/><line x1="575.88" y1="42.29" x2="579.88" y2="42.29" stroke="#008040" stroke-width="0.95"/><line x1="593.05" y1="46.07" x2="593.05" y2="35.99" stroke="#008040" stroke-width="0.95"/><line x1="591.05" y1="46.07" x2="595.05" y2="46.07" stroke="#008040" stroke-width="0.95"/><line x1="591.05" y1="35.99" x2="595.05" y2="35.99" stroke="#008040" stroke-width="0.95"/><line x1="608.22" y1="62.20" x2="608.22" y2="29.44" stroke="#008040" stroke-width="0.95"/><line x1="606.22" y1="62.20" x2="610.22" y2="62.20" stroke="#008040" stroke-width="0.95"/><line x1="606.22" y1="29.44" x2="610.22" y2="29.44" stroke="#008040" stroke-width="0.95"/><polyline points="532.37,82.86 547.54,81.60 562.71,53.88 577.88,44.81 593.05,41.03 608.22,45.82" fill="none" stroke="#008040" stroke-width="1.25" stroke-linejoin="round"/><polygon points="532.37,84.84 534.35,81.42 530.39,81.42" fill="#008040"/><polygon points="547.54,83.58 549.52,80.16 545.56,80.16" fill="#008040"/><polygon points="562.71,55.86 564.69,52.44 560.73,52.44" fill="#008040"/><polygon points="577.88,46.79 579.86,43.37 575.90,43.37" fill="#008040"/><polygon points="593.05,43.01 595.03,39.59 591.07,39.59" fill="#008040"/><polygon points="608.22,47.80 610.20,44.38 606.24,44.38" fill="#008040"/><line x1="532.37" y1="87.14" x2="532.37" y2="84.62" stroke="#0000ff" stroke-width="0.95"/><line x1="530.37" y1="87.14" x2="534.37" y2="87.14" stroke="#0000ff" stroke-width="0.95"/><line x1="530.37" y1="84.62" x2="534.37" y2="84.62" stroke="#0000ff" stroke-width="0.95"/><line x1="547.54" y1="85.13" x2="547.54" y2="82.10" stroke="#0000ff" stroke-width="0.95"/><line x1="545.54" y1="85.13" x2="549.54" y2="85.13" stroke="#0000ff" stroke-width="0.95"/><line x1="545.54" y1="82.10" x2="549.54" y2="82.10" stroke="#0000ff" stroke-width="0.95"/><line x1="562.71" y1="69.25" x2="562.71" y2="56.65" stroke="#0000ff" stroke-width="0.95"/><line x1="560.71" y1="69.25" x2="564.71" y2="69.25" stroke="#0000ff" stroke-width="0.95"/><line x1="560.71" y1="56.65" x2="564.71" y2="56.65" stroke="#0000ff" stroke-width="0.95"/><line x1="577.88" y1="56.65" x2="577.88" y2="49.60" stroke="#0000ff" stroke-width="0.95"/><line x1="575.88" y1="56.65" x2="579.88" y2="56.65" stroke="#0000ff" stroke-width="0.95"/><line x1="575.88" y1="49.60" x2="579.88" y2="49.60" stroke="#0000ff" stroke-width="0.95"/><line x1="593.05" y1="56.15" x2="593.05" y2="41.03" stroke="#0000ff" stroke-width="0.95"/><line x1="591.05" y1="56.15" x2="595.05" y2="56.15" stroke="#0000ff" stroke-width="0.95"/><line x1="591.05" y1="41.03" x2="595.05" y2="41.03" stroke="#0000ff" stroke-width="0.95"/><line x1="608.22" y1="52.37" x2="608.22" y2="37.25" stroke="#0000ff" stroke-width="0.95"/><line x1="606.22" y1="52.37" x2="610.22" y2="52.37" stroke="#0000ff" stroke-width="0.95"/><line x1="606.22" y1="37.25" x2="610.22" y2="37.25" stroke="#0000ff" stroke-width="0.95"/><polyline points="532.37,85.88 547.54,83.62 562.71,62.95 577.88,53.12 593.05,48.59 608.22,44.81" fill="none" stroke="#0000ff" stroke-width="1.25" stroke-linejoin="round"/><polygon points="532.37,83.90 534.35,87.32 530.39,87.32" fill="#0000ff"/><polygon points="547.54,81.64 549.52,85.06 545.56,85.06" fill="#0000ff"/><polygon points="562.71,60.97 564.69,64.39 560.73,64.39" fill="#0000ff"/><polygon points="577.88,51.14 579.86,54.56 575.90,54.56" fill="#0000ff"/><polygon points="593.05,46.61 595.03,50.03 591.07,50.03" fill="#0000ff"/><polygon points="608.22,42.83 610.20,46.25 606.24,46.25" fill="#0000ff"/><line x1="532.37" y1="76.81" x2="532.37" y2="73.79" stroke="#ff7f00" stroke-width="0.95"/><line x1="530.37" y1="76.81" x2="534.37" y2="76.81" stroke="#ff7f00" stroke-width="0.95"/><line x1="530.37" y1="73.79" x2="534.37" y2="73.79" stroke="#ff7f00" stroke-width="0.95"/><line x1="547.54" y1="74.80" x2="547.54" y2="70.76" stroke="#ff7f00" stroke-width="0.95"/><line x1="545.54" y1="74.80" x2="549.54" y2="74.80" stroke="#ff7f00" stroke-width="0.95"/><line x1="545.54" y1="70.76" x2="549.54" y2="70.76" stroke="#ff7f00" stroke-width="0.95"/><line x1="562.71" y1="75.55" x2="562.71" y2="71.52" stroke="#ff7f00" stroke-width="0.95"/><line x1="560.71" y1="75.55" x2="564.71" y2="75.55" stroke="#ff7f00" stroke-width="0.95"/><line x1="560.71" y1="71.52" x2="564.71" y2="71.52" stroke="#ff7f00" stroke-width="0.95"/><line x1="577.88" y1="72.53" x2="577.88" y2="64.46" stroke="#ff7f00" stroke-width="0.95"/><line x1="575.88" y1="72.53" x2="579.88" y2="72.53" stroke="#ff7f00" stroke-width="0.95"/><line x1="575.88" y1="64.46" x2="579.88" y2="64.46" stroke="#ff7f00" stroke-width="0.95"/><line x1="593.05" y1="75.80" x2="593.05" y2="73.79" stroke="#ff7f00" stroke-width="0.95"/><line x1="591.05" y1="75.80" x2="595.05" y2="75.80" stroke="#ff7f00" stroke-width="0.95"/><line x1="591.05" y1="73.79" x2="595.05" y2="73.79" stroke="#ff7f00" stroke-width="0.95"/><line x1="608.22" y1="73.79" x2="608.22" y2="71.77" stroke="#ff7f00" stroke-width="0.95"/><line x1="606.22" y1="73.79" x2="610.22" y2="73.79" stroke="#ff7f00" stroke-width="0.95"/><line x1="606.22" y1="71.77" x2="610.22" y2="71.77" stroke="#ff7f00" stroke-width="0.95"/><line x1="623.39" y1="73.03" x2="623.39" y2="71.02" stroke="#ff7f00" stroke-width="0.95"/><line x1="621.39" y1="73.03" x2="625.39" y2="73.03" stroke="#ff7f00" stroke-width="0.95"/><line x1="621.39" y1="71.02" x2="625.39" y2="71.02" stroke="#ff7f00" stroke-width="0.95"/><line x1="638.56" y1="74.54" x2="638.56" y2="70.51" stroke="#ff7f00" stroke-width="0.95"/><line x1="636.56" y1="74.54" x2="640.56" y2="74.54" stroke="#ff7f00" stroke-width="0.95"/><line x1="636.56" y1="70.51" x2="640.56" y2="70.51" stroke="#ff7f00" stroke-width="0.95"/><polyline points="532.37,75.30 547.54,72.78 562.71,73.54 577.88,68.50 593.05,74.80 608.22,72.78 623.39,72.02 638.56,72.53" fill="none" stroke="#ff7f00" stroke-width="1.3" stroke-linejoin="round"/><polygon points="532.37,73.14 534.53,75.30 532.37,77.46 530.21,75.30" fill="#ff7f00"/><polygon points="547.54,70.62 549.70,72.78 547.54,74.94 545.38,72.78" fill="#ff7f00"/><polygon points="562.71,71.38 564.87,73.54 562.71,75.70 560.55,73.54" fill="#ff7f00"/><polygon points="577.88,66.34 580.04,68.50 577.88,70.66 575.72,68.50" fill="#ff7f00"/><polygon points="593.05,72.64 595.21,74.80 593.05,76.96 590.89,74.80" fill="#ff7f00"/><polygon points="608.22,70.62 610.38,72.78 608.22,74.94 606.06,72.78" fill="#ff7f00"/><polygon points="623.39,69.86 625.55,72.02 623.39,74.18 621.23,72.02" fill="#ff7f00"/><polygon points="638.56,70.37 640.72,72.53 638.56,74.69 636.40,72.53" fill="#ff7f00"/><line x1="532.37" y1="81.85" x2="532.37" y2="77.82" stroke="#000" stroke-width="0.95"/><line x1="530.37" y1="81.85" x2="534.37" y2="81.85" stroke="#000" stroke-width="0.95"/><line x1="530.37" y1="77.82" x2="534.37" y2="77.82" stroke="#000" stroke-width="0.95"/><line x1="547.54" y1="82.86" x2="547.54" y2="77.82" stroke="#000" stroke-width="0.95"/><line x1="545.54" y1="82.86" x2="549.54" y2="82.86" stroke="#000" stroke-width="0.95"/><line x1="545.54" y1="77.82" x2="549.54" y2="77.82" stroke="#000" stroke-width="0.95"/><line x1="562.71" y1="82.10" x2="562.71" y2="80.59" stroke="#000" stroke-width="0.95"/><line x1="560.71" y1="82.10" x2="564.71" y2="82.10" stroke="#000" stroke-width="0.95"/><line x1="560.71" y1="80.59" x2="564.71" y2="80.59" stroke="#000" stroke-width="0.95"/><line x1="577.88" y1="80.59" x2="577.88" y2="77.57" stroke="#000" stroke-width="0.95"/><line x1="575.88" y1="80.59" x2="579.88" y2="80.59" stroke="#000" stroke-width="0.95"/><line x1="575.88" y1="77.57" x2="579.88" y2="77.57" stroke="#000" stroke-width="0.95"/><line x1="593.05" y1="83.11" x2="593.05" y2="79.08" stroke="#000" stroke-width="0.95"/><line x1="591.05" y1="83.11" x2="595.05" y2="83.11" stroke="#000" stroke-width="0.95"/><line x1="591.05" y1="79.08" x2="595.05" y2="79.08" stroke="#000" stroke-width="0.95"/><line x1="608.22" y1="83.11" x2="608.22" y2="81.10" stroke="#000" stroke-width="0.95"/><line x1="606.22" y1="83.11" x2="610.22" y2="83.11" stroke="#000" stroke-width="0.95"/><line x1="606.22" y1="81.10" x2="610.22" y2="81.10" stroke="#000" stroke-width="0.95"/><line x1="623.39" y1="82.36" x2="623.39" y2="80.34" stroke="#000" stroke-width="0.95"/><line x1="621.39" y1="82.36" x2="625.39" y2="82.36" stroke="#000" stroke-width="0.95"/><line x1="621.39" y1="80.34" x2="625.39" y2="80.34" stroke="#000" stroke-width="0.95"/><line x1="638.56" y1="80.84" x2="638.56" y2="78.83" stroke="#000" stroke-width="0.95"/><line x1="636.56" y1="80.84" x2="640.56" y2="80.84" stroke="#000" stroke-width="0.95"/><line x1="636.56" y1="78.83" x2="640.56" y2="78.83" stroke="#000" stroke-width="0.95"/><polyline points="532.37,79.84 547.54,80.34 562.71,81.35 577.88,79.08 593.05,81.10 608.22,82.10 623.39,81.35 638.56,79.84" fill="none" stroke="#000" stroke-width="1.3" stroke-linejoin="round"/><rect x="530.37" y="77.84" width="4.00" height="4.00" fill="#000" stroke="none" stroke-width="1"/><rect x="545.54" y="78.34" width="4.00" height="4.00" fill="#000" stroke="none" stroke-width="1"/><rect x="560.71" y="79.35" width="4.00" height="4.00" fill="#000" stroke="none" stroke-width="1"/><rect x="575.88" y="77.08" width="4.00" height="4.00" fill="#000" stroke="none" stroke-width="1"/><rect x="591.05" y="79.10" width="4.00" height="4.00" fill="#000" stroke="none" stroke-width="1"/><rect x="606.22" y="80.10" width="4.00" height="4.00" fill="#000" stroke="none" stroke-width="1"/><rect x="621.39" y="79.35" width="4.00" height="4.00" fill="#000" stroke="none" stroke-width="1"/><rect x="636.56" y="77.84" width="4.00" height="4.00" fill="#000" stroke="none" stroke-width="1"/><line x1="532.37" y1="78.07" x2="532.37" y2="75.05" stroke="#ff0000" stroke-width="0.95"/><line x1="530.37" y1="78.07" x2="534.37" y2="78.07" stroke="#ff0000" stroke-width="0.95"/><line x1="530.37" y1="75.05" x2="534.37" y2="75.05" stroke="#ff0000" stroke-width="0.95"/><line x1="547.54" y1="74.54" x2="547.54" y2="69.50" stroke="#ff0000" stroke-width="0.95"/><line x1="545.54" y1="74.54" x2="549.54" y2="74.54" stroke="#ff0000" stroke-width="0.95"/><line x1="545.54" y1="69.50" x2="549.54" y2="69.50" stroke="#ff0000" stroke-width="0.95"/><line x1="562.71" y1="62.95" x2="562.71" y2="47.83" stroke="#ff0000" stroke-width="0.95"/><line x1="560.71" y1="62.95" x2="564.71" y2="62.95" stroke="#ff0000" stroke-width="0.95"/><line x1="560.71" y1="47.83" x2="564.71" y2="47.83" stroke="#ff0000" stroke-width="0.95"/><line x1="577.88" y1="44.81" x2="577.88" y2="33.72" stroke="#ff0000" stroke-width="0.95"/><line x1="575.88" y1="44.81" x2="579.88" y2="44.81" stroke="#ff0000" stroke-width="0.95"/><line x1="575.88" y1="33.72" x2="579.88" y2="33.72" stroke="#ff0000" stroke-width="0.95"/><line x1="593.05" y1="38.00" x2="593.05" y2="30.44" stroke="#ff0000" stroke-width="0.95"/><line x1="591.05" y1="38.00" x2="595.05" y2="38.00" stroke="#ff0000" stroke-width="0.95"/><line x1="591.05" y1="30.44" x2="595.05" y2="30.44" stroke="#ff0000" stroke-width="0.95"/><line x1="608.22" y1="45.56" x2="608.22" y2="24.40" stroke="#ff0000" stroke-width="0.95"/><line x1="606.22" y1="45.56" x2="610.22" y2="45.56" stroke="#ff0000" stroke-width="0.95"/><line x1="606.22" y1="24.40" x2="610.22" y2="24.40" stroke="#ff0000" stroke-width="0.95"/><polyline points="532.37,76.56 547.54,72.02 562.71,55.39 577.88,39.26 593.05,34.22 608.22,34.98" fill="none" stroke="#ff0000" stroke-width="1.25" stroke-linejoin="round"/><circle cx="532.37" cy="76.56" r="1.80" fill="#ff0000"/><circle cx="547.54" cy="72.02" r="1.80" fill="#ff0000"/><circle cx="562.71" cy="55.39" r="1.80" fill="#ff0000"/><circle cx="577.88" cy="39.26" r="1.80" fill="#ff0000"/><circle cx="593.05" cy="34.22" r="1.80" fill="#ff0000"/><circle cx="608.22" cy="34.98" r="1.80" fill="#ff0000"/><polygon points="547.54,64.80 548.16,66.05 549.54,66.25 548.54,67.22 548.77,68.60 547.54,67.95 546.31,68.60 546.54,67.22 545.54,66.25 546.92,66.05" fill="#000"/><polygon points="562.71,39.60 563.33,40.85 564.71,41.05 563.71,42.02 563.94,43.40 562.71,42.75 561.48,43.40 561.71,42.02 560.71,41.05 562.09,40.85" fill="#000"/><polygon points="577.88,26.00 578.50,27.25 579.88,27.45 578.88,28.42 579.11,29.80 577.88,29.15 576.65,29.80 576.88,28.42 575.88,27.45 577.26,27.25" fill="#000"/><polygon points="593.05,21.20 593.67,22.45 595.05,22.65 594.05,23.62 594.28,25.00 593.05,24.35 591.82,25.00 592.05,23.62 591.05,22.65 592.43,22.45" fill="#000"/><polygon points="608.22,19.20 608.84,20.45 610.22,20.65 609.22,21.62 609.45,23.00 608.22,22.35 606.99,23.00 607.22,21.62 606.22,20.65 607.60,20.45" fill="#000"/><line x1="517.20" y1="18.00" x2="517.20" y2="119.90" stroke="#000" stroke-width="1.5"/><line x1="516.60" y1="119.40" x2="669.40" y2="119.40" stroke="#000" stroke-width="1.3"/><line x1="514.00" y1="119.40" x2="517.20" y2="119.40" stroke="#000" stroke-width="1.2"/><text x="513.10" y="121.90" font-family="Liberation Sans" font-size="7.1" text-anchor="end" fill="#000" font-weight="bold" stroke="#000" stroke-width="0.12">0</text><line x1="514.00" y1="94.20" x2="517.20" y2="94.20" stroke="#000" stroke-width="1.2"/><text x="513.10" y="96.70" font-family="Liberation Sans" font-size="7.1" text-anchor="end" fill="#000" font-weight="bold" stroke="#000" stroke-width="0.12">1</text><line x1="514.00" y1="69.00" x2="517.20" y2="69.00" stroke="#000" stroke-width="1.2"/><text x="513.10" y="71.50" font-family="Liberation Sans" font-size="7.1" text-anchor="end" fill="#000" font-weight="bold" stroke="#000" stroke-width="0.12">2</text><line x1="514.00" y1="43.80" x2="517.20" y2="43.80" stroke="#000" stroke-width="1.2"/><text x="513.10" y="46.30" font-family="Liberation Sans" font-size="7.1" text-anchor="end" fill="#000" font-weight="bold" stroke="#000" stroke-width="0.12">3</text><line x1="514.00" y1="18.60" x2="517.20" y2="18.60" stroke="#000" stroke-width="1.2"/><text x="513.10" y="21.10" font-family="Liberation Sans" font-size="7.1" text-anchor="end" fill="#000" font-weight="bold" stroke="#000" stroke-width="0.12">4</text><line x1="517.20" y1="119.40" x2="517.20" y2="123.20" stroke="#000" stroke-width="1.3"/><text x="517.20" y="130.60" font-family="Liberation Sans" font-size="7.2" text-anchor="middle" fill="#000" font-weight="bold" stroke="#000" stroke-width="0.12">0</text><line x1="532.37" y1="119.40" x2="532.37" y2="123.20" stroke="#000" stroke-width="1.3"/><text x="532.37" y="130.60" font-family="Liberation Sans" font-size="7.2" text-anchor="middle" fill="#000" font-weight="bold" stroke="#000" stroke-width="0.12">1</text><line x1="547.54" y1="119.40" x2="547.54" y2="123.20" stroke="#000" stroke-width="1.3"/><text x="547.54" y="130.60" font-family="Liberation Sans" font-size="7.2" text-anchor="middle" fill="#000" font-weight="bold" stroke="#000" stroke-width="0.12">2</text><line x1="562.71" y1="119.40" x2="562.71" y2="123.20" stroke="#000" stroke-width="1.3"/><text x="562.71" y="130.60" font-family="Liberation Sans" font-size="7.2" text-anchor="middle" fill="#000" font-weight="bold" stroke="#000" stroke-width="0.12">3</text><line x1="577.88" y1="119.40" x2="577.88" y2="123.20" stroke="#000" stroke-width="1.3"/><text x="577.88" y="130.60" font-family="Liberation Sans" font-size="7.2" text-anchor="middle" fill="#000" font-weight="bold" stroke="#000" stroke-width="0.12">4</text><line x1="593.05" y1="119.40" x2="593.05" y2="123.20" stroke="#000" stroke-width="1.3"/><text x="593.05" y="130.60" font-family="Liberation Sans" font-size="7.2" text-anchor="middle" fill="#000" font-weight="bold" stroke="#000" stroke-width="0.12">5</text><line x1="608.22" y1="119.40" x2="608.22" y2="123.20" stroke="#000" stroke-width="1.3"/><text x="608.22" y="130.60" font-family="Liberation Sans" font-size="7.2" text-anchor="middle" fill="#000" font-weight="bold" stroke="#000" stroke-width="0.12">6</text><line x1="623.39" y1="119.40" x2="623.39" y2="123.20" stroke="#000" stroke-width="1.3"/><text x="623.39" y="130.60" font-family="Liberation Sans" font-size="7.2" text-anchor="middle" fill="#000" font-weight="bold" stroke="#000" stroke-width="0.12">7</text><line x1="638.56" y1="119.40" x2="638.56" y2="123.20" stroke="#000" stroke-width="1.3"/><text x="638.56" y="130.60" font-family="Liberation Sans" font-size="7.2" text-anchor="middle" fill="#000" font-weight="bold" stroke="#000" stroke-width="0.12">8</text><line x1="653.73" y1="119.40" x2="653.73" y2="123.20" stroke="#000" stroke-width="1.3"/><text x="653.73" y="130.60" font-family="Liberation Sans" font-size="7.2" text-anchor="middle" fill="#000" font-weight="bold" stroke="#000" stroke-width="0.12">9</text><line x1="668.90" y1="119.40" x2="668.90" y2="123.20" stroke="#000" stroke-width="1.3"/><text x="668.90" y="130.60" font-family="Liberation Sans" font-size="7.2" text-anchor="middle" fill="#000" font-weight="bold" stroke="#000" stroke-width="0.12">10</text><text x="590.80" y="139.90" font-family="Liberation Sans" font-size="6.95" text-anchor="middle" fill="#000" font-weight="bold" stroke="#000" stroke-width="0.12">Days post-infection</text><text x="9.90" y="150.30" font-family="Liberation Sans" font-size="6.7" text-anchor="start" fill="#000" font-weight="bold" stroke="#000" stroke-width="0.12">(d)</text><text x="18.60" y="213.90" font-family="Liberation Sans" font-size="7.0" text-anchor="middle" fill="#000" font-weight="bold" stroke="#000" stroke-width="0.12" transform="rotate(-90 18.60 213.90)">Viremia Log10 PFU/ml</text><line x1="30.60" y1="265.40" x2="226.40" y2="265.40" stroke="#000" stroke-width="0.8"/><rect x="32.65" y="265.28" width="4.40" height="12.52" fill="#000" stroke="none" stroke-width="1"/><rect x="39.20" y="221.84" width="4.40" height="55.96" fill="#ff0000" stroke="none" stroke-width="1"/><line x1="41.40" y1="220.58" x2="41.40" y2="221.84" stroke="#ff0000" stroke-width="0.7"/><line x1="40.10" y1="220.58" x2="42.70" y2="220.58" stroke="#ff0000" stroke-width="0.7"/><polygon points="41.40,214.53 42.00,215.75 43.35,215.95 42.37,216.90 42.60,218.24 41.40,217.61 40.20,218.24 40.43,216.90 39.45,215.95 40.80,215.75" fill="#000"/><rect x="45.75" y="217.45" width="4.40" height="60.35" fill="#0000ff" stroke="none" stroke-width="1"/><line x1="47.95" y1="213.70" x2="47.95" y2="217.45" stroke="#0000ff" stroke-width="0.7"/><line x1="46.65" y1="213.70" x2="49.25" y2="213.70" stroke="#0000ff" stroke-width="0.7"/><polygon points="47.95,207.65 48.55,208.87 49.90,209.06 48.92,210.01 49.15,211.36 47.95,210.72 46.75,211.36 46.98,210.01 46.00,209.06 47.35,208.87" fill="#000"/><rect x="52.30" y="265.28" width="4.40" height="12.52" fill="#ff7f00" stroke="none" stroke-width="1"/><rect x="58.85" y="228.97" width="4.40" height="48.83" fill="#ff00ff" stroke="none" stroke-width="1"/><line x1="61.05" y1="228.35" x2="61.05" y2="228.97" stroke="#ff00ff" stroke-width="0.7"/><line x1="59.75" y1="228.35" x2="62.35" y2="228.35" stroke="#ff00ff" stroke-width="0.7"/><polygon points="61.05,222.30 61.65,223.52 63.00,223.71 62.02,224.66 62.25,226.00 61.05,225.37 59.85,226.00 60.08,224.66 59.10,223.71 60.45,223.52" fill="#000"/><rect x="65.40" y="221.08" width="4.40" height="56.72" fill="#7f007f" stroke="none" stroke-width="1"/><line x1="67.60" y1="217.33" x2="67.60" y2="221.08" stroke="#7f007f" stroke-width="0.7"/><line x1="66.30" y1="217.33" x2="68.90" y2="217.33" stroke="#7f007f" stroke-width="0.7"/><polygon points="67.60,211.28 68.20,212.50 69.55,212.69 68.57,213.65 68.80,214.99 67.60,214.35 66.40,214.99 66.63,213.65 65.65,212.69 67.00,212.50" fill="#000"/><rect x="71.95" y="218.96" width="4.40" height="58.84" fill="#008040" stroke="none" stroke-width="1"/><line x1="74.15" y1="218.33" x2="74.15" y2="218.96" stroke="#008040" stroke-width="0.7"/><line x1="72.85" y1="218.33" x2="75.45" y2="218.33" stroke="#008040" stroke-width="0.7"/><polygon points="74.15,212.28 74.75,213.50 76.10,213.70 75.12,214.65 75.35,215.99 74.15,215.35 72.95,215.99 73.18,214.65 72.20,213.70 73.55,213.50" fill="#000"/><rect x="82.25" y="265.28" width="4.40" height="12.52" fill="#000" stroke="none" stroke-width="1"/><rect x="88.80" y="183.40" width="4.40" height="94.40" fill="#ff0000" stroke="none" stroke-width="1"/><line x1="91.00" y1="182.15" x2="91.00" y2="183.40" stroke="#ff0000" stroke-width="0.7"/><line x1="89.70" y1="182.15" x2="92.30" y2="182.15" stroke="#ff0000" stroke-width="0.7"/><polygon points="91.00,176.10 91.60,177.32 92.95,177.51 91.97,178.46 92.20,179.81 91.00,179.17 89.80,179.81 90.03,178.46 89.05,177.51 90.40,177.32" fill="#000"/><rect x="95.35" y="184.15" width="4.40" height="93.65" fill="#0000ff" stroke="none" stroke-width="1"/><line x1="97.55" y1="182.27" x2="97.55" y2="184.15" stroke="#0000ff" stroke-width="0.7"/><line x1="96.25" y1="182.27" x2="98.85" y2="182.27" stroke="#0000ff" stroke-width="0.7"/><polygon points="97.55,176.22 98.15,177.44 99.50,177.64 98.52,178.59 98.75,179.93 97.55,179.30 96.35,179.93 96.58,178.59 95.60,177.64 96.95,177.44" fill="#000"/><rect x="101.90" y="265.28" width="4.40" height="12.52" fill="#ff7f00" stroke="none" stroke-width="1"/><rect x="108.45" y="207.44" width="4.40" height="70.36" fill="#ff00ff" stroke="none" stroke-width="1"/><line x1="110.65" y1="201.80" x2="110.65" y2="207.44" stroke="#ff00ff" stroke-width="0.7"/><line x1="109.35" y1="201.80" x2="111.95" y2="201.80" stroke="#ff00ff" stroke-width="0.7"/><polygon points="110.65,195.75 111.25,196.97 112.60,197.17 111.62,198.12 111.85,199.46 110.65,198.83 109.45,199.46 109.68,198.12 108.70,197.17 110.05,196.97" fill="#000"/><rect x="115.00" y="182.15" width="4.40" height="95.65" fill="#7f007f" stroke="none" stroke-width="1"/><line x1="117.20" y1="180.90" x2="117.20" y2="182.15" stroke="#7f007f" stroke-width="0.7"/><line x1="115.90" y1="180.90" x2="118.50" y2="180.90" stroke="#7f007f" stroke-width="0.7"/><polygon points="117.20,174.85 117.80,176.07 119.15,176.26 118.17,177.21 118.40,178.55 117.20,177.92 116.00,178.55 116.23,177.21 115.25,176.26 116.60,176.07" fill="#000"/><rect x="121.55" y="191.41" width="4.40" height="86.39" fill="#008040" stroke="none" stroke-width="1"/><line x1="123.75" y1="185.15" x2="123.75" y2="191.41" stroke="#008040" stroke-width="0.7"/><line x1="122.45" y1="185.15" x2="125.05" y2="185.15" stroke="#008040" stroke-width="0.7"/><polygon points="123.75,179.10 124.35,180.32 125.70,180.52 124.72,181.47 124.95,182.81 123.75,182.18 122.55,182.81 122.78,181.47 121.80,180.52 123.15,180.32" fill="#000"/><rect x="131.85" y="265.28" width="4.40" height="12.52" fill="#000" stroke="none" stroke-width="1"/><rect x="138.40" y="176.51" width="4.40" height="101.29" fill="#ff0000" stroke="none" stroke-width="1"/><line x1="140.60" y1="169.88" x2="140.60" y2="176.51" stroke="#ff0000" stroke-width="0.7"/><line x1="139.30" y1="169.88" x2="141.90" y2="169.88" stroke="#ff0000" stroke-width="0.7"/><polygon points="140.60,163.83 141.20,165.05 142.55,165.24 141.57,166.19 141.80,167.54 140.60,166.90 139.40,167.54 139.63,166.19 138.65,165.24 140.00,165.05" fill="#000"/><rect x="144.95" y="170.25" width="4.40" height="107.55" fill="#0000ff" stroke="none" stroke-width="1"/><line x1="147.15" y1="166.50" x2="147.15" y2="170.25" stroke="#0000ff" stroke-width="0.7"/><line x1="145.85" y1="166.50" x2="148.45" y2="166.50" stroke="#0000ff" stroke-width="0.7"/><polygon points="147.15,160.45 147.75,161.67 149.10,161.86 148.12,162.81 148.35,164.16 147.15,163.52 145.95,164.16 146.18,162.81 145.20,161.86 146.55,161.67" fill="#000"/><rect x="151.50" y="265.28" width="4.40" height="12.52" fill="#ff7f00" stroke="none" stroke-width="1"/><rect x="158.05" y="184.15" width="4.40" height="93.65" fill="#ff00ff" stroke="none" stroke-width="1"/><line x1="160.25" y1="181.02" x2="160.25" y2="184.15" stroke="#ff00ff" stroke-width="0.7"/><line x1="158.95" y1="181.02" x2="161.55" y2="181.02" stroke="#ff00ff" stroke-width="0.7"/><polygon points="160.25,174.97 160.85,176.19 162.20,176.39 161.22,177.34 161.45,178.68 160.25,178.05 159.05,178.68 159.28,177.34 158.30,176.39 159.65,176.19" fill="#000"/><rect x="164.60" y="172.88" width="4.40" height="104.92" fill="#7f007f" stroke="none" stroke-width="1"/><line x1="166.80" y1="171.63" x2="166.80" y2="172.88" stroke="#7f007f" stroke-width="0.7"/><line x1="165.50" y1="171.63" x2="168.10" y2="171.63" stroke="#7f007f" stroke-width="0.7"/><polygon points="166.80,165.58 167.40,166.80 168.75,167.00 167.77,167.95 168.00,169.29 166.80,168.66 165.60,169.29 165.83,167.95 164.85,167.00 166.20,166.80" fill="#000"/><rect x="171.15" y="170.00" width="4.40" height="107.80" fill="#008040" stroke="none" stroke-width="1"/><line x1="173.35" y1="168.75" x2="173.35" y2="170.00" stroke="#008040" stroke-width="0.7"/><line x1="172.05" y1="168.75" x2="174.65" y2="168.75" stroke="#008040" stroke-width="0.7"/><polygon points="173.35,162.70 173.95,163.92 175.30,164.12 174.32,165.07 174.55,166.41 173.35,165.78 172.15,166.41 172.38,165.07 171.40,164.12 172.75,163.92" fill="#000"/><rect x="181.45" y="265.28" width="4.40" height="12.52" fill="#000" stroke="none" stroke-width="1"/><rect x="188.00" y="193.79" width="4.40" height="84.01" fill="#ff0000" stroke="none" stroke-width="1"/><line x1="190.20" y1="192.54" x2="190.20" y2="193.79" stroke="#ff0000" stroke-width="0.7"/><line x1="188.90" y1="192.54" x2="191.50" y2="192.54" stroke="#ff0000" stroke-width="0.7"/><polygon points="190.20,186.49 190.80,187.71 192.15,187.91 191.17,188.86 191.40,190.20 190.20,189.56 189.00,190.20 189.23,188.86 188.25,187.91 189.60,187.71" fill="#000"/><rect x="194.55" y="193.67" width="4.40" height="84.13" fill="#0000ff" stroke="none" stroke-width="1"/><line x1="196.75" y1="192.41" x2="196.75" y2="193.67" stroke="#0000ff" stroke-width="0.7"/><line x1="195.45" y1="192.41" x2="198.05" y2="192.41" stroke="#0000ff" stroke-width="0.7"/><polygon points="196.75,186.36 197.35,187.58 198.70,187.78 197.72,188.73 197.95,190.07 196.75,189.44 195.55,190.07 195.78,188.73 194.80,187.78 196.15,187.58" fill="#000"/><rect x="201.10" y="265.28" width="4.40" height="12.52" fill="#ff7f00" stroke="none" stroke-width="1"/><rect x="207.65" y="196.29" width="4.40" height="81.51" fill="#ff00ff" stroke="none" stroke-width="1"/><line x1="209.85" y1="195.29" x2="209.85" y2="196.29" stroke="#ff00ff" stroke-width="0.7"/><line x1="208.55" y1="195.29" x2="211.15" y2="195.29" stroke="#ff00ff" stroke-width="0.7"/><polygon points="209.85,189.24 210.45,190.46 211.80,190.66 210.82,191.61 211.05,192.95 209.85,192.32 208.65,192.95 208.88,191.61 207.90,190.66 209.25,190.46" fill="#000"/><rect x="214.20" y="187.16" width="4.40" height="90.64" fill="#7f007f" stroke="none" stroke-width="1"/><line x1="216.40" y1="183.40" x2="216.40" y2="187.16" stroke="#7f007f" stroke-width="0.7"/><line x1="215.10" y1="183.40" x2="217.70" y2="183.40" stroke="#7f007f" stroke-width="0.7"/><polygon points="216.40,177.35 217.00,178.57 218.35,178.77 217.37,179.72 217.60,181.06 216.40,180.42 215.20,181.06 215.43,179.72 214.45,178.77 215.80,178.57" fill="#000"/><rect x="220.75" y="187.16" width="4.40" height="90.64" fill="#008040" stroke="none" stroke-width="1"/><line x1="222.95" y1="185.28" x2="222.95" y2="187.16" stroke="#008040" stroke-width="0.7"/><line x1="221.65" y1="185.28" x2="224.25" y2="185.28" stroke="#008040" stroke-width="0.7"/><polygon points="222.95,179.23 223.55,180.45 224.90,180.64 223.92,181.59 224.15,182.94 222.95,182.30 221.75,182.94 221.98,181.59 221.00,180.64 222.35,180.45" fill="#000"/><line x1="30.60" y1="153.20" x2="30.60" y2="278.20" stroke="#000" stroke-width="1.0"/><line x1="30.20" y1="278.20" x2="226.80" y2="278.20" stroke="#000" stroke-width="1.0"/><line x1="28.00" y1="277.61" x2="30.60" y2="277.61" stroke="#000" stroke-width="0.85"/><text x="28.00" y="279.26" font-family="Liberation Sans" font-size="4.6" text-anchor="end" fill="#000" font-weight="bold" stroke="#000" stroke-width="0.12">0</text><line x1="28.00" y1="265.20" x2="30.60" y2="265.20" stroke="#000" stroke-width="0.85"/><text x="28.00" y="266.85" font-family="Liberation Sans" font-size="4.6" text-anchor="end" fill="#000" font-weight="bold" stroke="#000" stroke-width="0.12">1</text><line x1="28.00" y1="252.79" x2="30.60" y2="252.79" stroke="#000" stroke-width="0.85"/><text x="28.00" y="254.44" font-family="Liberation Sans" font-size="4.6" text-anchor="end" fill="#000" font-weight="bold" stroke="#000" stroke-width="0.12">2</text><line x1="28.00" y1="240.38" x2="30.60" y2="240.38" stroke="#000" stroke-width="0.85"/><text x="28.00" y="242.03" font-family="Liberation Sans" font-size="4.6" text-anchor="end" fill="#000" font-weight="bold" stroke="#000" stroke-width="0.12">3</text><line x1="28.00" y1="227.97" x2="30.60" y2="227.97" stroke="#000" stroke-width="0.85"/><text x="28.00" y="229.62" font-family="Liberation Sans" font-size="4.6" text-anchor="end" fill="#000" font-weight="bold" stroke="#000" stroke-width="0.12">4</text><line x1="28.00" y1="215.56" x2="30.60" y2="215.56" stroke="#000" stroke-width="0.85"/><text x="28.00" y="217.21" font-family="Liberation Sans" font-size="4.6" text-anchor="end" fill="#000" font-weight="bold" stroke="#000" stroke-width="0.12">5</text><line x1="28.00" y1="203.15" x2="30.60" y2="203.15" stroke="#000" stroke-width="0.85"/><text x="28.00" y="204.80" font-family="Liberation Sans" font-size="4.6" text-anchor="end" fill="#000" font-weight="bold" stroke="#000" stroke-width="0.12">6</text><line x1="28.00" y1="190.74" x2="30.60" y2="190.74" stroke="#000" stroke-width="0.85"/><text x="28.00" y="192.39" font-family="Liberation Sans" font-size="4.6" text-anchor="end" fill="#000" font-weight="bold" stroke="#000" stroke-width="0.12">7</text><line x1="28.00" y1="178.33" x2="30.60" y2="178.33" stroke="#000" stroke-width="0.85"/><text x="28.00" y="179.98" font-family="Liberation Sans" font-size="4.6" text-anchor="end" fill="#000" font-weight="bold" stroke="#000" stroke-width="0.12">8</text><line x1="28.00" y1="165.92" x2="30.60" y2="165.92" stroke="#000" stroke-width="0.85"/><text x="28.00" y="167.57" font-family="Liberation Sans" font-size="4.6" text-anchor="end" fill="#000" font-weight="bold" stroke="#000" stroke-width="0.12">9</text><line x1="28.00" y1="153.51" x2="30.60" y2="153.51" stroke="#000" stroke-width="0.85"/><text x="28.00" y="155.16" font-family="Liberation Sans" font-size="4.6" text-anchor="end" fill="#000" font-weight="bold" stroke="#000" stroke-width="0.12">10</text><line x1="54.50" y1="278.20" x2="54.50" y2="280.10" stroke="#000" stroke-width="0.9"/><text x="54.50" y="284.80" font-family="Liberation Sans" font-size="5.0" text-anchor="middle" fill="#000" font-weight="bold">1</text><line x1="104.10" y1="278.20" x2="104.10" y2="280.10" stroke="#000" stroke-width="0.9"/><text x="104.10" y="284.80" font-family="Liberation Sans" font-size="5.0" text-anchor="middle" fill="#000" font-weight="bold">2</text><line x1="153.70" y1="278.20" x2="153.70" y2="280.10" stroke="#000" stroke-width="0.9"/><text x="153.70" y="284.80" font-family="Liberation Sans" font-size="5.0" text-anchor="middle" fill="#000" font-weight="bold">3</text><line x1="203.30" y1="278.20" x2="203.30" y2="280.10" stroke="#000" stroke-width="0.9"/><text x="203.30" y="284.80" font-family="Liberation Sans" font-size="5.0" text-anchor="middle" fill="#000" font-weight="bold">4</text><text x="131.30" y="292.80" font-family="Liberation Sans" font-size="6.95" text-anchor="middle" fill="#000" font-weight="bold" stroke="#000" stroke-width="0.12">Days post-infection</text><rect x="226.6" y="260.6" width="12.5" height="7.9" rx="0.8" fill="#fff" stroke="#333" stroke-width="0.8"/><text x="232.85" y="266.70" font-family="Liberation Sans" font-size="5.6" text-anchor="middle" fill="#444" textLength="10.2" lengthAdjust="spacingAndGlyphs">LOD</text><text x="289.10" y="150.30" font-family="Liberation Sans" font-size="6.8" text-anchor="start" fill="#000" font-weight="bold" stroke="#000" stroke-width="0.12">(e)</text><text x="297.50" y="227.50" font-family="Liberation Sans" font-size="6.84" text-anchor="middle" fill="#000" font-weight="bold" stroke="#000" stroke-width="0.12" transform="rotate(-90 297.50 227.50)">Percent survival</text><polyline points="404.20,175.00 404.20,231.80 418.90,231.80 418.90,271.40" fill="none" stroke="#3a9a6a" stroke-width="1.0" stroke-linejoin="round"/><polyline points="407.00,175.00 407.00,205.37 421.50,205.37 421.50,271.40" fill="none" stroke="#0000ff" stroke-width="1.1" stroke-linejoin="round"/><polyline points="408.30,175.00 408.30,221.90 423.10,221.90 423.10,271.40" fill="none" stroke="#7f007f" stroke-width="0.9" stroke-linejoin="round"/><polyline points="405.40,175.00 405.40,212.59 420.20,212.59 420.20,271.40" fill="none" stroke="#ff0000" stroke-width="1.1" stroke-linejoin="round"/><polyline points="424.90,175.00 424.90,271.40" fill="none" stroke="#ff00ff" stroke-width="1.0" stroke-linejoin="round"/><line x1="317.70" y1="174.60" x2="436.70" y2="174.60" stroke="#ff7f00" stroke-width="1.2"/><line x1="317.70" y1="172.70" x2="436.70" y2="172.70" stroke="#222" stroke-width="1.1"/><rect x="434.75" y="170.95" width="3.50" height="3.50" fill="#000" stroke="none" stroke-width="1"/><polygon points="436.70,173.24 438.26,174.80 436.70,176.36 435.14,174.80" fill="#ff7f00"/><circle cx="405.50" cy="212.59" r="1.90" fill="#ff0000"/><polygon points="407.20,204.25 408.52,206.53 405.88,206.53" fill="#0000ff"/><circle cx="420.20" cy="271.40" r="1.90" fill="#ff0000"/><polygon points="404.20,233.34 405.74,230.68 402.66,230.68" fill="#008040"/><polygon points="408.40,220.47 409.83,222.94 406.97,222.94" fill="#7f007f"/><circle cx="424.90" cy="271.40" r="1.50" fill="#ff00ff"/><polygon points="423.10,269.97 424.53,272.44 421.67,272.44" fill="#0000ff"/><polygon points="401.90,167.00 402.46,168.13 403.71,168.31 402.80,169.19 403.02,170.44 401.90,169.85 400.78,170.44 401.00,169.19 400.09,168.31 401.34,168.13" fill="#000"/><polygon points="405.50,167.00 406.06,168.13 407.31,168.31 406.40,169.19 406.62,170.44 405.50,169.85 404.38,170.44 404.60,169.19 403.69,168.31 404.94,168.13" fill="#000"/><polygon points="409.10,167.00 409.66,168.13 410.91,168.31 410.00,169.19 410.22,170.44 409.10,169.85 407.98,170.44 408.20,169.19 407.29,168.31 408.54,168.13" fill="#000"/><polygon points="412.90,167.00 413.46,168.13 414.71,168.31 413.80,169.19 414.02,170.44 412.90,169.85 411.78,170.44 412.00,169.19 411.09,168.31 412.34,168.13" fill="#000"/><polygon points="424.90,167.00 425.46,168.13 426.71,168.31 425.80,169.19 426.02,170.44 424.90,169.85 423.78,170.44 424.00,169.19 423.09,168.31 424.34,168.13" fill="#000"/><line x1="317.70" y1="170.50" x2="317.70" y2="271.90" stroke="#000" stroke-width="1.3"/><line x1="317.10" y1="271.40" x2="466.60" y2="271.40" stroke="#000" stroke-width="1.3"/><line x1="314.70" y1="271.40" x2="317.70" y2="271.40" stroke="#000" stroke-width="1.2"/><text x="313.40" y="274.20" font-family="Liberation Sans" font-size="7.3" text-anchor="end" fill="#000" font-weight="bold" stroke="#000" stroke-width="0.12">0</text><line x1="314.70" y1="251.60" x2="317.70" y2="251.60" stroke="#000" stroke-width="1.2"/><text x="313.40" y="254.40" font-family="Liberation Sans" font-size="7.3" text-anchor="end" fill="#000" font-weight="bold" stroke="#000" stroke-width="0.12">20</text><line x1="314.70" y1="231.80" x2="317.70" y2="231.80" stroke="#000" stroke-width="1.2"/><text x="313.40" y="234.60" font-family="Liberation Sans" font-size="7.3" text-anchor="end" fill="#000" font-weight="bold" stroke="#000" stroke-width="0.12">40</text><line x1="314.70" y1="212.00" x2="317.70" y2="212.00" stroke="#000" stroke-width="1.2"/><text x="313.40" y="214.80" font-family="Liberation Sans" font-size="7.3" text-anchor="end" fill="#000" font-weight="bold" stroke="#000" stroke-width="0.12">60</text><line x1="314.70" y1="192.20" x2="317.70" y2="192.20" stroke="#000" stroke-width="1.2"/><text x="313.40" y="195.00" font-family="Liberation Sans" font-size="7.3" text-anchor="end" fill="#000" font-weight="bold" stroke="#000" stroke-width="0.12">80</text><line x1="314.70" y1="172.40" x2="317.70" y2="172.40" stroke="#000" stroke-width="1.2"/><text x="313.40" y="175.20" font-family="Liberation Sans" font-size="7.3" text-anchor="end" fill="#000" font-weight="bold" stroke="#000" stroke-width="0.12">100</text><line x1="317.70" y1="271.40" x2="317.70" y2="275.40" stroke="#000" stroke-width="1.3"/><text x="317.70" y="282.50" font-family="Liberation Sans" font-size="7.1" text-anchor="middle" fill="#000" font-weight="bold" stroke="#000" stroke-width="0.12">0</text><line x1="332.59" y1="271.40" x2="332.59" y2="275.40" stroke="#000" stroke-width="1.3"/><text x="332.59" y="282.50" font-family="Liberation Sans" font-size="7.1" text-anchor="middle" fill="#000" font-weight="bold" stroke="#000" stroke-width="0.12">1</text><line x1="347.48" y1="271.40" x2="347.48" y2="275.40" stroke="#000" stroke-width="1.3"/><text x="347.48" y="282.50" font-family="Liberation Sans" font-size="7.1" text-anchor="middle" fill="#000" font-weight="bold" stroke="#000" stroke-width="0.12">2</text><line x1="362.37" y1="271.40" x2="362.37" y2="275.40" stroke="#000" stroke-width="1.3"/><text x="362.37" y="282.50" font-family="Liberation Sans" font-size="7.1" text-anchor="middle" fill="#000" font-weight="bold" stroke="#000" stroke-width="0.12">3</text><line x1="377.26" y1="271.40" x2="377.26" y2="275.40" stroke="#000" stroke-width="1.3"/><text x="377.26" y="282.50" font-family="Liberation Sans" font-size="7.1" text-anchor="middle" fill="#000" font-weight="bold" stroke="#000" stroke-width="0.12">4</text><line x1="392.15" y1="271.40" x2="392.15" y2="275.40" stroke="#000" stroke-width="1.3"/><text x="392.15" y="282.50" font-family="Liberation Sans" font-size="7.1" text-anchor="middle" fill="#000" font-weight="bold" stroke="#000" stroke-width="0.12">5</text><line x1="407.04" y1="271.40" x2="407.04" y2="275.40" stroke="#000" stroke-width="1.3"/><text x="407.04" y="282.50" font-family="Liberation Sans" font-size="7.1" text-anchor="middle" fill="#000" font-weight="bold" stroke="#000" stroke-width="0.12">6</text><line x1="421.93" y1="271.40" x2="421.93" y2="275.40" stroke="#000" stroke-width="1.3"/><text x="421.93" y="282.50" font-family="Liberation Sans" font-size="7.1" text-anchor="middle" fill="#000" font-weight="bold" stroke="#000" stroke-width="0.12">7</text><line x1="436.82" y1="271.40" x2="436.82" y2="275.40" stroke="#000" stroke-width="1.3"/><text x="436.82" y="282.50" font-family="Liberation Sans" font-size="7.1" text-anchor="middle" fill="#000" font-weight="bold" stroke="#000" stroke-width="0.12">8</text><line x1="451.71" y1="271.40" x2="451.71" y2="275.40" stroke="#000" stroke-width="1.3"/><text x="451.71" y="282.50" font-family="Liberation Sans" font-size="7.1" text-anchor="middle" fill="#000" font-weight="bold" stroke="#000" stroke-width="0.12">9</text><line x1="466.60" y1="271.40" x2="466.60" y2="275.40" stroke="#000" stroke-width="1.3"/><text x="466.60" y="282.50" font-family="Liberation Sans" font-size="7.1" text-anchor="middle" fill="#000" font-weight="bold" stroke="#000" stroke-width="0.12">10</text><text x="391.90" y="290.90" font-family="Liberation Sans" font-size="6.9" text-anchor="middle" fill="#000" font-weight="bold" stroke="#000" stroke-width="0.12">Days post-infection</text><rect x="519.90" y="188.50" width="10.70" height="5.70" fill="#000" stroke="none" stroke-width="1"/><text x="536.80" y="193.90" font-family="Liberation Sans" font-size="8.0" text-anchor="start" fill="#000" textLength="16.2" lengthAdjust="spacingAndGlyphs" stroke="#000" stroke-width="0.22">PBS</text><text x="555.70" y="193.90" font-family="Liberation Sans" font-size="7.65" text-anchor="start" fill="#000" textLength="117.5" lengthAdjust="spacingAndGlyphs" stroke="#000" stroke-width="0.22">(PBS vaccinated, PBS challenged)</text><rect x="519.90" y="200.70" width="10.70" height="5.70" fill="#ff0000" stroke="none" stroke-width="1"/><text x="536.80" y="206.10" font-family="Liberation Sans" font-size="8.0" text-anchor="start" fill="#000" textLength="47.8" lengthAdjust="spacingAndGlyphs" stroke="#000" stroke-width="0.22">EILV / CHIKV</text><text x="587.70" y="206.10" font-family="Liberation Sans" font-size="7.65" text-anchor="start" fill="#000" textLength="56.3" lengthAdjust="spacingAndGlyphs" stroke="#000" stroke-width="0.22">(CHIKV vaccine)</text><rect x="519.90" y="212.90" width="10.70" height="5.70" fill="#0000ff" stroke="none" stroke-width="1"/><text x="536.80" y="218.30" font-family="Liberation Sans" font-size="8.0" text-anchor="start" fill="#000" textLength="50.2" lengthAdjust="spacingAndGlyphs" stroke="#000" stroke-width="0.22">CHIKV / IRES</text><text x="589.30" y="218.30" font-family="Liberation Sans" font-size="7.65" text-anchor="start" fill="#000" textLength="56.9" lengthAdjust="spacingAndGlyphs" stroke="#000" stroke-width="0.22">(CHIKV vaccine)</text><rect x="519.90" y="225.10" width="10.70" height="5.70" fill="#ff7f00" stroke="none" stroke-width="1"/><text x="536.80" y="230.50" font-family="Liberation Sans" font-size="8.0" text-anchor="start" fill="#000" textLength="47.7" lengthAdjust="spacingAndGlyphs" stroke="#000" stroke-width="0.22">MAYV / IRES</text><text x="588.20" y="230.50" font-family="Liberation Sans" font-size="7.65" text-anchor="start" fill="#000" textLength="53.5" lengthAdjust="spacingAndGlyphs" stroke="#000" stroke-width="0.22">(MAYV vaccine)</text><rect x="519.90" y="237.30" width="10.70" height="5.70" fill="#ff00ff" stroke="none" stroke-width="1"/><text x="537.60" y="242.70" font-family="Liberation Sans" font-size="8.0" text-anchor="start" fill="#000" textLength="18.4" lengthAdjust="spacingAndGlyphs" stroke="#000" stroke-width="0.22">ZIKV</text><rect x="519.90" y="249.50" width="10.70" height="5.70" fill="#7f007f" stroke="none" stroke-width="1"/><text x="536.80" y="254.90" font-family="Liberation Sans" font-size="8.0" text-anchor="start" fill="#000" textLength="22.4" lengthAdjust="spacingAndGlyphs" stroke="#000" stroke-width="0.22">99659</text><text x="561.60" y="254.90" font-family="Liberation Sans" font-size="7.65" text-anchor="start" fill="#000" textLength="37.3" lengthAdjust="spacingAndGlyphs" stroke="#000" stroke-width="0.22">(wt CHIKV)</text><rect x="519.90" y="261.70" width="10.70" height="5.70" fill="#008040" stroke="none" stroke-width="1"/><text x="536.80" y="267.10" font-family="Liberation Sans" font-size="8.0" text-anchor="start" fill="#000" textLength="23.0" lengthAdjust="spacingAndGlyphs" stroke="#000" stroke-width="0.22">SHAM</text><text x="561.40" y="267.10" font-family="Liberation Sans" font-size="7.65" text-anchor="start" fill="#000" textLength="124.2" lengthAdjust="spacingAndGlyphs" stroke="#000" stroke-width="0.22">(PBS vaccinated, MAYV challenged)</text></svg></body></html>
